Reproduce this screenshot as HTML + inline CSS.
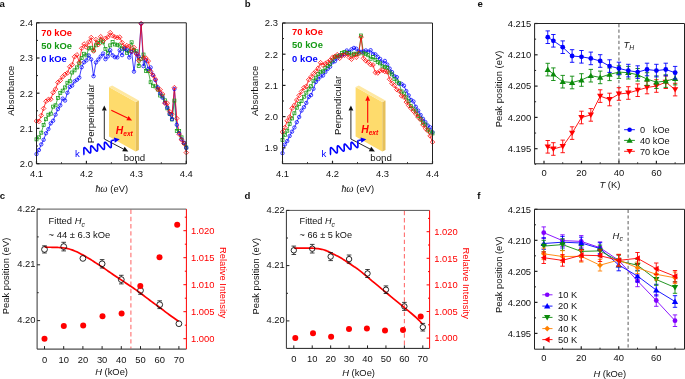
<!DOCTYPE html>
<html><head><meta charset="utf-8"><style>html,body{margin:0;padding:0;background:#fff;}svg{display:block;will-change:transform;}</style></head>
<body><svg width="685" height="379" viewBox="0 0 685 379">
<rect width="685" height="379" fill="#fff"/>
<polyline points="36.5,139.35 38.88,137.33 41.26,132.7 43.63,124.97 46.01,119.2 48.39,114.75 50.77,113.67 53.14,106.64 55.52,105.32 57.9,98.06 60.28,92.89 62.66,90.68 65.03,87.44 67.41,82.79 69.79,81.2 72.17,72.51 74.54,70.34 76.92,67.42 79.3,63.49 81.68,57.89 84.06,53.77 86.43,55.4 88.81,48.37 91.19,47.76 93.57,50.38 95.94,45.34 98.32,42.87 100.7,40.47 103.08,42.35 105.46,48.94 107.83,52.81 110.21,45.39 112.59,42.05 114.97,44.46 117.34,44.79 119.72,45.58 122.1,48.67 124.48,48.63 126.86,52.79 129.23,51.26 131.61,42.31 133.99,50.31 136.37,51.31 138.74,66.08 141.12,58.94 143.5,54.56 145.88,71.04 148.26,71.19 150.63,82.24 153.01,85.77 155.39,86.45 157.77,89.52 160.14,95.53 162.52,96.3 164.9,100.32 167.28,108.37 169.66,114.09 172.03,119.44 174.41,100.6 176.79,131.04 179.17,131.12 181.54,137.34 183.92,143.19 186.3,147.47" fill="none" stroke="#159a15" stroke-width="0.75" stroke-linejoin="round" />
<polyline points="36.5,154.08 38.88,150.07 41.26,144.41 43.63,139.83 46.01,133.29 48.39,129.11 50.77,123.38 53.14,120.72 55.52,114.67 57.9,109.15 60.28,105.39 62.66,98.62 65.03,100.54 67.41,92.78 69.79,87 72.17,85.56 74.54,81.37 76.92,79.8 79.3,77.64 81.68,67.2 84.06,62.29 86.43,60.36 88.81,55.51 91.19,59.34 93.57,76.2 95.94,62.49 98.32,59.51 100.7,56.43 103.08,53.51 105.46,59.19 107.83,56.42 110.21,50.22 112.59,55.28 114.97,57.23 117.34,57.39 119.72,50.3 122.1,55.14 124.48,48.66 126.86,49.56 129.23,57.46 131.61,51.97 133.99,71.6 136.37,53.47 138.74,56.47 141.12,23.7 143.5,66.13 145.88,60.35 148.26,68.97 150.63,67.46 153.01,74.86 155.39,80.09 157.77,87.35 160.14,93.44 162.52,97.66 164.9,102.73 167.28,107.48 169.66,113.91 172.03,119.16 174.41,89 176.79,124.8 179.17,133.29 181.54,139.21 183.92,142.69 186.3,147.91" fill="none" stroke="#0000ff" stroke-width="0.75" stroke-linejoin="round" />
<polyline points="36.5,121.04 38.88,121.41 41.26,115.47 43.63,108.46 46.01,101.27 48.39,99.46 50.77,99.23 53.14,92.59 55.52,89.12 57.9,82.39 60.28,80.38 62.66,76.78 65.03,74.34 67.41,72.99 69.79,66.79 72.17,64.68 74.54,56.79 76.92,54.85 79.3,62.44 81.68,48.33 84.06,44.04 86.43,46.99 88.81,42.01 91.19,37.5 93.57,51.01 95.94,39.56 98.32,44.64 100.7,36.7 103.08,40.83 105.46,38.31 107.83,37.07 110.21,32.62 112.59,35.75 114.97,36.91 117.34,37.71 119.72,37.23 122.1,42.62 124.48,47.03 126.86,45.63 129.23,46.37 131.61,51.17 133.99,47.5 136.37,53.88 138.74,60.46 141.12,23.7 143.5,57.79 145.88,58.06 148.26,61.06 150.63,71.36 153.01,75.38 155.39,79.17 157.77,89.31 160.14,89.72 162.52,94.06 164.9,103.22 167.28,103.26 169.66,111.55 172.03,114.26 174.41,87.6 176.79,118.39 179.17,134.26 181.54,139.76 183.92,143.47 186.3,152.57" fill="none" stroke="#ff0000" stroke-width="0.75" stroke-linejoin="round" />
<rect x="35" y="137.85" width="3.0" height="3.0" fill="none" stroke="#159a15" stroke-width="0.75"/>
<rect x="37.38" y="135.83" width="3.0" height="3.0" fill="none" stroke="#159a15" stroke-width="0.75"/>
<rect x="39.76" y="131.2" width="3.0" height="3.0" fill="none" stroke="#159a15" stroke-width="0.75"/>
<rect x="42.13" y="123.47" width="3.0" height="3.0" fill="none" stroke="#159a15" stroke-width="0.75"/>
<rect x="44.51" y="117.7" width="3.0" height="3.0" fill="none" stroke="#159a15" stroke-width="0.75"/>
<rect x="46.89" y="113.25" width="3.0" height="3.0" fill="none" stroke="#159a15" stroke-width="0.75"/>
<rect x="49.27" y="112.17" width="3.0" height="3.0" fill="none" stroke="#159a15" stroke-width="0.75"/>
<rect x="51.64" y="105.14" width="3.0" height="3.0" fill="none" stroke="#159a15" stroke-width="0.75"/>
<rect x="54.02" y="103.82" width="3.0" height="3.0" fill="none" stroke="#159a15" stroke-width="0.75"/>
<rect x="56.4" y="96.56" width="3.0" height="3.0" fill="none" stroke="#159a15" stroke-width="0.75"/>
<rect x="58.78" y="91.39" width="3.0" height="3.0" fill="none" stroke="#159a15" stroke-width="0.75"/>
<rect x="61.16" y="89.18" width="3.0" height="3.0" fill="none" stroke="#159a15" stroke-width="0.75"/>
<rect x="63.53" y="85.94" width="3.0" height="3.0" fill="none" stroke="#159a15" stroke-width="0.75"/>
<rect x="65.91" y="81.29" width="3.0" height="3.0" fill="none" stroke="#159a15" stroke-width="0.75"/>
<rect x="68.29" y="79.7" width="3.0" height="3.0" fill="none" stroke="#159a15" stroke-width="0.75"/>
<rect x="70.67" y="71.01" width="3.0" height="3.0" fill="none" stroke="#159a15" stroke-width="0.75"/>
<rect x="73.04" y="68.84" width="3.0" height="3.0" fill="none" stroke="#159a15" stroke-width="0.75"/>
<rect x="75.42" y="65.92" width="3.0" height="3.0" fill="none" stroke="#159a15" stroke-width="0.75"/>
<rect x="77.8" y="61.99" width="3.0" height="3.0" fill="none" stroke="#159a15" stroke-width="0.75"/>
<rect x="80.18" y="56.39" width="3.0" height="3.0" fill="none" stroke="#159a15" stroke-width="0.75"/>
<rect x="82.56" y="52.27" width="3.0" height="3.0" fill="none" stroke="#159a15" stroke-width="0.75"/>
<rect x="84.93" y="53.9" width="3.0" height="3.0" fill="none" stroke="#159a15" stroke-width="0.75"/>
<rect x="87.31" y="46.87" width="3.0" height="3.0" fill="none" stroke="#159a15" stroke-width="0.75"/>
<rect x="89.69" y="46.26" width="3.0" height="3.0" fill="none" stroke="#159a15" stroke-width="0.75"/>
<rect x="92.07" y="48.88" width="3.0" height="3.0" fill="none" stroke="#159a15" stroke-width="0.75"/>
<rect x="94.44" y="43.84" width="3.0" height="3.0" fill="none" stroke="#159a15" stroke-width="0.75"/>
<rect x="96.82" y="41.37" width="3.0" height="3.0" fill="none" stroke="#159a15" stroke-width="0.75"/>
<rect x="99.2" y="38.97" width="3.0" height="3.0" fill="none" stroke="#159a15" stroke-width="0.75"/>
<rect x="101.58" y="40.85" width="3.0" height="3.0" fill="none" stroke="#159a15" stroke-width="0.75"/>
<rect x="103.96" y="47.44" width="3.0" height="3.0" fill="none" stroke="#159a15" stroke-width="0.75"/>
<rect x="106.33" y="51.31" width="3.0" height="3.0" fill="none" stroke="#159a15" stroke-width="0.75"/>
<rect x="108.71" y="43.89" width="3.0" height="3.0" fill="none" stroke="#159a15" stroke-width="0.75"/>
<rect x="111.09" y="40.55" width="3.0" height="3.0" fill="none" stroke="#159a15" stroke-width="0.75"/>
<rect x="113.47" y="42.96" width="3.0" height="3.0" fill="none" stroke="#159a15" stroke-width="0.75"/>
<rect x="115.84" y="43.29" width="3.0" height="3.0" fill="none" stroke="#159a15" stroke-width="0.75"/>
<rect x="118.22" y="44.08" width="3.0" height="3.0" fill="none" stroke="#159a15" stroke-width="0.75"/>
<rect x="120.6" y="47.17" width="3.0" height="3.0" fill="none" stroke="#159a15" stroke-width="0.75"/>
<rect x="122.98" y="47.13" width="3.0" height="3.0" fill="none" stroke="#159a15" stroke-width="0.75"/>
<rect x="125.36" y="51.29" width="3.0" height="3.0" fill="none" stroke="#159a15" stroke-width="0.75"/>
<rect x="127.73" y="49.76" width="3.0" height="3.0" fill="none" stroke="#159a15" stroke-width="0.75"/>
<rect x="130.11" y="40.81" width="3.0" height="3.0" fill="none" stroke="#159a15" stroke-width="0.75"/>
<rect x="132.49" y="48.81" width="3.0" height="3.0" fill="none" stroke="#159a15" stroke-width="0.75"/>
<rect x="134.87" y="49.81" width="3.0" height="3.0" fill="none" stroke="#159a15" stroke-width="0.75"/>
<rect x="137.24" y="64.58" width="3.0" height="3.0" fill="none" stroke="#159a15" stroke-width="0.75"/>
<rect x="139.62" y="57.44" width="3.0" height="3.0" fill="none" stroke="#159a15" stroke-width="0.75"/>
<rect x="142" y="53.06" width="3.0" height="3.0" fill="none" stroke="#159a15" stroke-width="0.75"/>
<rect x="144.38" y="69.54" width="3.0" height="3.0" fill="none" stroke="#159a15" stroke-width="0.75"/>
<rect x="146.76" y="69.69" width="3.0" height="3.0" fill="none" stroke="#159a15" stroke-width="0.75"/>
<rect x="149.13" y="80.74" width="3.0" height="3.0" fill="none" stroke="#159a15" stroke-width="0.75"/>
<rect x="151.51" y="84.27" width="3.0" height="3.0" fill="none" stroke="#159a15" stroke-width="0.75"/>
<rect x="153.89" y="84.95" width="3.0" height="3.0" fill="none" stroke="#159a15" stroke-width="0.75"/>
<rect x="156.27" y="88.02" width="3.0" height="3.0" fill="none" stroke="#159a15" stroke-width="0.75"/>
<rect x="158.64" y="94.03" width="3.0" height="3.0" fill="none" stroke="#159a15" stroke-width="0.75"/>
<rect x="161.02" y="94.8" width="3.0" height="3.0" fill="none" stroke="#159a15" stroke-width="0.75"/>
<rect x="163.4" y="98.82" width="3.0" height="3.0" fill="none" stroke="#159a15" stroke-width="0.75"/>
<rect x="165.78" y="106.87" width="3.0" height="3.0" fill="none" stroke="#159a15" stroke-width="0.75"/>
<rect x="168.16" y="112.59" width="3.0" height="3.0" fill="none" stroke="#159a15" stroke-width="0.75"/>
<rect x="170.53" y="117.94" width="3.0" height="3.0" fill="none" stroke="#159a15" stroke-width="0.75"/>
<rect x="172.91" y="99.1" width="3.0" height="3.0" fill="none" stroke="#159a15" stroke-width="0.75"/>
<rect x="175.29" y="129.54" width="3.0" height="3.0" fill="none" stroke="#159a15" stroke-width="0.75"/>
<rect x="177.67" y="129.62" width="3.0" height="3.0" fill="none" stroke="#159a15" stroke-width="0.75"/>
<rect x="180.04" y="135.84" width="3.0" height="3.0" fill="none" stroke="#159a15" stroke-width="0.75"/>
<rect x="182.42" y="141.69" width="3.0" height="3.0" fill="none" stroke="#159a15" stroke-width="0.75"/>
<rect x="184.8" y="145.97" width="3.0" height="3.0" fill="none" stroke="#159a15" stroke-width="0.75"/>
<circle cx="36.5" cy="154.08" r="1.7" fill="none" stroke="#0000ff" stroke-width="0.75"/>
<circle cx="38.88" cy="150.07" r="1.7" fill="none" stroke="#0000ff" stroke-width="0.75"/>
<circle cx="41.26" cy="144.41" r="1.7" fill="none" stroke="#0000ff" stroke-width="0.75"/>
<circle cx="43.63" cy="139.83" r="1.7" fill="none" stroke="#0000ff" stroke-width="0.75"/>
<circle cx="46.01" cy="133.29" r="1.7" fill="none" stroke="#0000ff" stroke-width="0.75"/>
<circle cx="48.39" cy="129.11" r="1.7" fill="none" stroke="#0000ff" stroke-width="0.75"/>
<circle cx="50.77" cy="123.38" r="1.7" fill="none" stroke="#0000ff" stroke-width="0.75"/>
<circle cx="53.14" cy="120.72" r="1.7" fill="none" stroke="#0000ff" stroke-width="0.75"/>
<circle cx="55.52" cy="114.67" r="1.7" fill="none" stroke="#0000ff" stroke-width="0.75"/>
<circle cx="57.9" cy="109.15" r="1.7" fill="none" stroke="#0000ff" stroke-width="0.75"/>
<circle cx="60.28" cy="105.39" r="1.7" fill="none" stroke="#0000ff" stroke-width="0.75"/>
<circle cx="62.66" cy="98.62" r="1.7" fill="none" stroke="#0000ff" stroke-width="0.75"/>
<circle cx="65.03" cy="100.54" r="1.7" fill="none" stroke="#0000ff" stroke-width="0.75"/>
<circle cx="67.41" cy="92.78" r="1.7" fill="none" stroke="#0000ff" stroke-width="0.75"/>
<circle cx="69.79" cy="87" r="1.7" fill="none" stroke="#0000ff" stroke-width="0.75"/>
<circle cx="72.17" cy="85.56" r="1.7" fill="none" stroke="#0000ff" stroke-width="0.75"/>
<circle cx="74.54" cy="81.37" r="1.7" fill="none" stroke="#0000ff" stroke-width="0.75"/>
<circle cx="76.92" cy="79.8" r="1.7" fill="none" stroke="#0000ff" stroke-width="0.75"/>
<circle cx="79.3" cy="77.64" r="1.7" fill="none" stroke="#0000ff" stroke-width="0.75"/>
<circle cx="81.68" cy="67.2" r="1.7" fill="none" stroke="#0000ff" stroke-width="0.75"/>
<circle cx="84.06" cy="62.29" r="1.7" fill="none" stroke="#0000ff" stroke-width="0.75"/>
<circle cx="86.43" cy="60.36" r="1.7" fill="none" stroke="#0000ff" stroke-width="0.75"/>
<circle cx="88.81" cy="55.51" r="1.7" fill="none" stroke="#0000ff" stroke-width="0.75"/>
<circle cx="91.19" cy="59.34" r="1.7" fill="none" stroke="#0000ff" stroke-width="0.75"/>
<circle cx="93.57" cy="76.2" r="1.7" fill="none" stroke="#0000ff" stroke-width="0.75"/>
<circle cx="95.94" cy="62.49" r="1.7" fill="none" stroke="#0000ff" stroke-width="0.75"/>
<circle cx="98.32" cy="59.51" r="1.7" fill="none" stroke="#0000ff" stroke-width="0.75"/>
<circle cx="100.7" cy="56.43" r="1.7" fill="none" stroke="#0000ff" stroke-width="0.75"/>
<circle cx="103.08" cy="53.51" r="1.7" fill="none" stroke="#0000ff" stroke-width="0.75"/>
<circle cx="105.46" cy="59.19" r="1.7" fill="none" stroke="#0000ff" stroke-width="0.75"/>
<circle cx="107.83" cy="56.42" r="1.7" fill="none" stroke="#0000ff" stroke-width="0.75"/>
<circle cx="110.21" cy="50.22" r="1.7" fill="none" stroke="#0000ff" stroke-width="0.75"/>
<circle cx="112.59" cy="55.28" r="1.7" fill="none" stroke="#0000ff" stroke-width="0.75"/>
<circle cx="114.97" cy="57.23" r="1.7" fill="none" stroke="#0000ff" stroke-width="0.75"/>
<circle cx="117.34" cy="57.39" r="1.7" fill="none" stroke="#0000ff" stroke-width="0.75"/>
<circle cx="119.72" cy="50.3" r="1.7" fill="none" stroke="#0000ff" stroke-width="0.75"/>
<circle cx="122.1" cy="55.14" r="1.7" fill="none" stroke="#0000ff" stroke-width="0.75"/>
<circle cx="124.48" cy="48.66" r="1.7" fill="none" stroke="#0000ff" stroke-width="0.75"/>
<circle cx="126.86" cy="49.56" r="1.7" fill="none" stroke="#0000ff" stroke-width="0.75"/>
<circle cx="129.23" cy="57.46" r="1.7" fill="none" stroke="#0000ff" stroke-width="0.75"/>
<circle cx="131.61" cy="51.97" r="1.7" fill="none" stroke="#0000ff" stroke-width="0.75"/>
<circle cx="133.99" cy="71.6" r="1.7" fill="none" stroke="#0000ff" stroke-width="0.75"/>
<circle cx="136.37" cy="53.47" r="1.7" fill="none" stroke="#0000ff" stroke-width="0.75"/>
<circle cx="138.74" cy="56.47" r="1.7" fill="none" stroke="#0000ff" stroke-width="0.75"/>
<circle cx="141.12" cy="23.7" r="1.7" fill="none" stroke="#0000ff" stroke-width="0.75"/>
<circle cx="143.5" cy="66.13" r="1.7" fill="none" stroke="#0000ff" stroke-width="0.75"/>
<circle cx="145.88" cy="60.35" r="1.7" fill="none" stroke="#0000ff" stroke-width="0.75"/>
<circle cx="148.26" cy="68.97" r="1.7" fill="none" stroke="#0000ff" stroke-width="0.75"/>
<circle cx="150.63" cy="67.46" r="1.7" fill="none" stroke="#0000ff" stroke-width="0.75"/>
<circle cx="153.01" cy="74.86" r="1.7" fill="none" stroke="#0000ff" stroke-width="0.75"/>
<circle cx="155.39" cy="80.09" r="1.7" fill="none" stroke="#0000ff" stroke-width="0.75"/>
<circle cx="157.77" cy="87.35" r="1.7" fill="none" stroke="#0000ff" stroke-width="0.75"/>
<circle cx="160.14" cy="93.44" r="1.7" fill="none" stroke="#0000ff" stroke-width="0.75"/>
<circle cx="162.52" cy="97.66" r="1.7" fill="none" stroke="#0000ff" stroke-width="0.75"/>
<circle cx="164.9" cy="102.73" r="1.7" fill="none" stroke="#0000ff" stroke-width="0.75"/>
<circle cx="167.28" cy="107.48" r="1.7" fill="none" stroke="#0000ff" stroke-width="0.75"/>
<circle cx="169.66" cy="113.91" r="1.7" fill="none" stroke="#0000ff" stroke-width="0.75"/>
<circle cx="172.03" cy="119.16" r="1.7" fill="none" stroke="#0000ff" stroke-width="0.75"/>
<circle cx="174.41" cy="89" r="1.7" fill="none" stroke="#0000ff" stroke-width="0.75"/>
<circle cx="176.79" cy="124.8" r="1.7" fill="none" stroke="#0000ff" stroke-width="0.75"/>
<circle cx="179.17" cy="133.29" r="1.7" fill="none" stroke="#0000ff" stroke-width="0.75"/>
<circle cx="181.54" cy="139.21" r="1.7" fill="none" stroke="#0000ff" stroke-width="0.75"/>
<circle cx="183.92" cy="142.69" r="1.7" fill="none" stroke="#0000ff" stroke-width="0.75"/>
<circle cx="186.3" cy="147.91" r="1.7" fill="none" stroke="#0000ff" stroke-width="0.75"/>
<path d="M36.5 118.74L38.8 121.04L36.5 123.34L34.2 121.04Z" fill="none" stroke="#ff0000" stroke-width="0.75"/>
<path d="M38.88 119.11L41.18 121.41L38.88 123.71L36.58 121.41Z" fill="none" stroke="#ff0000" stroke-width="0.75"/>
<path d="M41.26 113.17L43.56 115.47L41.26 117.77L38.96 115.47Z" fill="none" stroke="#ff0000" stroke-width="0.75"/>
<path d="M43.63 106.16L45.93 108.46L43.63 110.76L41.33 108.46Z" fill="none" stroke="#ff0000" stroke-width="0.75"/>
<path d="M46.01 98.97L48.31 101.27L46.01 103.57L43.71 101.27Z" fill="none" stroke="#ff0000" stroke-width="0.75"/>
<path d="M48.39 97.16L50.69 99.46L48.39 101.76L46.09 99.46Z" fill="none" stroke="#ff0000" stroke-width="0.75"/>
<path d="M50.77 96.93L53.07 99.23L50.77 101.53L48.47 99.23Z" fill="none" stroke="#ff0000" stroke-width="0.75"/>
<path d="M53.14 90.29L55.44 92.59L53.14 94.89L50.84 92.59Z" fill="none" stroke="#ff0000" stroke-width="0.75"/>
<path d="M55.52 86.82L57.82 89.12L55.52 91.42L53.22 89.12Z" fill="none" stroke="#ff0000" stroke-width="0.75"/>
<path d="M57.9 80.09L60.2 82.39L57.9 84.69L55.6 82.39Z" fill="none" stroke="#ff0000" stroke-width="0.75"/>
<path d="M60.28 78.08L62.58 80.38L60.28 82.68L57.98 80.38Z" fill="none" stroke="#ff0000" stroke-width="0.75"/>
<path d="M62.66 74.48L64.96 76.78L62.66 79.08L60.36 76.78Z" fill="none" stroke="#ff0000" stroke-width="0.75"/>
<path d="M65.03 72.04L67.33 74.34L65.03 76.64L62.73 74.34Z" fill="none" stroke="#ff0000" stroke-width="0.75"/>
<path d="M67.41 70.69L69.71 72.99L67.41 75.29L65.11 72.99Z" fill="none" stroke="#ff0000" stroke-width="0.75"/>
<path d="M69.79 64.49L72.09 66.79L69.79 69.09L67.49 66.79Z" fill="none" stroke="#ff0000" stroke-width="0.75"/>
<path d="M72.17 62.38L74.47 64.68L72.17 66.98L69.87 64.68Z" fill="none" stroke="#ff0000" stroke-width="0.75"/>
<path d="M74.54 54.49L76.84 56.79L74.54 59.09L72.24 56.79Z" fill="none" stroke="#ff0000" stroke-width="0.75"/>
<path d="M76.92 52.55L79.22 54.85L76.92 57.15L74.62 54.85Z" fill="none" stroke="#ff0000" stroke-width="0.75"/>
<path d="M79.3 60.14L81.6 62.44L79.3 64.74L77 62.44Z" fill="none" stroke="#ff0000" stroke-width="0.75"/>
<path d="M81.68 46.03L83.98 48.33L81.68 50.63L79.38 48.33Z" fill="none" stroke="#ff0000" stroke-width="0.75"/>
<path d="M84.06 41.74L86.36 44.04L84.06 46.34L81.76 44.04Z" fill="none" stroke="#ff0000" stroke-width="0.75"/>
<path d="M86.43 44.69L88.73 46.99L86.43 49.29L84.13 46.99Z" fill="none" stroke="#ff0000" stroke-width="0.75"/>
<path d="M88.81 39.71L91.11 42.01L88.81 44.31L86.51 42.01Z" fill="none" stroke="#ff0000" stroke-width="0.75"/>
<path d="M91.19 35.2L93.49 37.5L91.19 39.8L88.89 37.5Z" fill="none" stroke="#ff0000" stroke-width="0.75"/>
<path d="M93.57 48.71L95.87 51.01L93.57 53.31L91.27 51.01Z" fill="none" stroke="#ff0000" stroke-width="0.75"/>
<path d="M95.94 37.26L98.24 39.56L95.94 41.86L93.64 39.56Z" fill="none" stroke="#ff0000" stroke-width="0.75"/>
<path d="M98.32 42.34L100.62 44.64L98.32 46.94L96.02 44.64Z" fill="none" stroke="#ff0000" stroke-width="0.75"/>
<path d="M100.7 34.4L103 36.7L100.7 39L98.4 36.7Z" fill="none" stroke="#ff0000" stroke-width="0.75"/>
<path d="M103.08 38.53L105.38 40.83L103.08 43.13L100.78 40.83Z" fill="none" stroke="#ff0000" stroke-width="0.75"/>
<path d="M105.46 36.01L107.76 38.31L105.46 40.61L103.16 38.31Z" fill="none" stroke="#ff0000" stroke-width="0.75"/>
<path d="M107.83 34.77L110.13 37.07L107.83 39.37L105.53 37.07Z" fill="none" stroke="#ff0000" stroke-width="0.75"/>
<path d="M110.21 30.32L112.51 32.62L110.21 34.92L107.91 32.62Z" fill="none" stroke="#ff0000" stroke-width="0.75"/>
<path d="M112.59 33.45L114.89 35.75L112.59 38.05L110.29 35.75Z" fill="none" stroke="#ff0000" stroke-width="0.75"/>
<path d="M114.97 34.61L117.27 36.91L114.97 39.21L112.67 36.91Z" fill="none" stroke="#ff0000" stroke-width="0.75"/>
<path d="M117.34 35.41L119.64 37.71L117.34 40.01L115.04 37.71Z" fill="none" stroke="#ff0000" stroke-width="0.75"/>
<path d="M119.72 34.93L122.02 37.23L119.72 39.53L117.42 37.23Z" fill="none" stroke="#ff0000" stroke-width="0.75"/>
<path d="M122.1 40.32L124.4 42.62L122.1 44.92L119.8 42.62Z" fill="none" stroke="#ff0000" stroke-width="0.75"/>
<path d="M124.48 44.73L126.78 47.03L124.48 49.33L122.18 47.03Z" fill="none" stroke="#ff0000" stroke-width="0.75"/>
<path d="M126.86 43.33L129.16 45.63L126.86 47.93L124.56 45.63Z" fill="none" stroke="#ff0000" stroke-width="0.75"/>
<path d="M129.23 44.07L131.53 46.37L129.23 48.67L126.93 46.37Z" fill="none" stroke="#ff0000" stroke-width="0.75"/>
<path d="M131.61 48.87L133.91 51.17L131.61 53.47L129.31 51.17Z" fill="none" stroke="#ff0000" stroke-width="0.75"/>
<path d="M133.99 45.2L136.29 47.5L133.99 49.8L131.69 47.5Z" fill="none" stroke="#ff0000" stroke-width="0.75"/>
<path d="M136.37 51.58L138.67 53.88L136.37 56.18L134.07 53.88Z" fill="none" stroke="#ff0000" stroke-width="0.75"/>
<path d="M138.74 58.16L141.04 60.46L138.74 62.76L136.44 60.46Z" fill="none" stroke="#ff0000" stroke-width="0.75"/>
<path d="M141.12 21.4L143.42 23.7L141.12 26L138.82 23.7Z" fill="none" stroke="#ff0000" stroke-width="0.75"/>
<path d="M143.5 55.49L145.8 57.79L143.5 60.09L141.2 57.79Z" fill="none" stroke="#ff0000" stroke-width="0.75"/>
<path d="M145.88 55.76L148.18 58.06L145.88 60.36L143.58 58.06Z" fill="none" stroke="#ff0000" stroke-width="0.75"/>
<path d="M148.26 58.76L150.56 61.06L148.26 63.36L145.96 61.06Z" fill="none" stroke="#ff0000" stroke-width="0.75"/>
<path d="M150.63 69.06L152.93 71.36L150.63 73.66L148.33 71.36Z" fill="none" stroke="#ff0000" stroke-width="0.75"/>
<path d="M153.01 73.08L155.31 75.38L153.01 77.68L150.71 75.38Z" fill="none" stroke="#ff0000" stroke-width="0.75"/>
<path d="M155.39 76.87L157.69 79.17L155.39 81.47L153.09 79.17Z" fill="none" stroke="#ff0000" stroke-width="0.75"/>
<path d="M157.77 87.01L160.07 89.31L157.77 91.61L155.47 89.31Z" fill="none" stroke="#ff0000" stroke-width="0.75"/>
<path d="M160.14 87.42L162.44 89.72L160.14 92.02L157.84 89.72Z" fill="none" stroke="#ff0000" stroke-width="0.75"/>
<path d="M162.52 91.76L164.82 94.06L162.52 96.36L160.22 94.06Z" fill="none" stroke="#ff0000" stroke-width="0.75"/>
<path d="M164.9 100.92L167.2 103.22L164.9 105.52L162.6 103.22Z" fill="none" stroke="#ff0000" stroke-width="0.75"/>
<path d="M167.28 100.96L169.58 103.26L167.28 105.56L164.98 103.26Z" fill="none" stroke="#ff0000" stroke-width="0.75"/>
<path d="M169.66 109.25L171.96 111.55L169.66 113.85L167.36 111.55Z" fill="none" stroke="#ff0000" stroke-width="0.75"/>
<path d="M172.03 111.96L174.33 114.26L172.03 116.56L169.73 114.26Z" fill="none" stroke="#ff0000" stroke-width="0.75"/>
<path d="M174.41 85.3L176.71 87.6L174.41 89.9L172.11 87.6Z" fill="none" stroke="#ff0000" stroke-width="0.75"/>
<path d="M176.79 116.09L179.09 118.39L176.79 120.69L174.49 118.39Z" fill="none" stroke="#ff0000" stroke-width="0.75"/>
<path d="M179.17 131.96L181.47 134.26L179.17 136.56L176.87 134.26Z" fill="none" stroke="#ff0000" stroke-width="0.75"/>
<path d="M181.54 137.46L183.84 139.76L181.54 142.06L179.24 139.76Z" fill="none" stroke="#ff0000" stroke-width="0.75"/>
<path d="M183.92 141.17L186.22 143.47L183.92 145.77L181.62 143.47Z" fill="none" stroke="#ff0000" stroke-width="0.75"/>
<path d="M186.3 150.27L188.6 152.57L186.3 154.87L184 152.57Z" fill="none" stroke="#ff0000" stroke-width="0.75"/>
<text x="41.3" y="35.8" font-size="9.4" text-anchor="start" font-weight="bold" font-style="normal" fill="#ff0000" font-family="Liberation Sans">70 kOe</text>
<text x="41.3" y="49" font-size="9.4" text-anchor="start" font-weight="bold" font-style="normal" fill="#159a15" font-family="Liberation Sans">50 kOe</text>
<text x="41.3" y="62.2" font-size="9.4" text-anchor="start" font-weight="bold" font-style="normal" fill="#0000ff" font-family="Liberation Sans">0 kOe</text>
<path d="M109 87.1L135.7 102.1L135.7 151.6L109 136.6Z" fill="#fedb6c" stroke="none" stroke-width="1" />
<path d="M135.7 102.1L138.9 100.4L138.9 149.9L135.7 151.6Z" fill="#e6c05a" stroke="none" stroke-width="1" />
<path d="M109 87.1L112.2 85.4L138.9 100.4L135.7 102.1Z" fill="#fee8a2" stroke="none" stroke-width="1" />
<line x1="104.3" y1="139" x2="104.3" y2="110.5" stroke="#111" stroke-width="0.9" />
<path d="M104.3 105.4L106.7 110.6L101.9 110.6Z" fill="#111" stroke="none" stroke-width="1" />
<path d="M128.3 151.6L122.22 151.35L124.64 146.74Z" fill="#111" stroke="none" stroke-width="1" />
<line x1="104.3" y1="139" x2="123.43" y2="149.04" stroke="#111" stroke-width="0.9" />
<polyline points="83.4,154.75 83.52,154.69 83.62,154.6 83.71,154.46 83.78,154.28 83.83,154.06 83.87,153.8 83.9,153.51 83.91,153.19 83.92,152.85 83.91,152.49 83.9,152.11 83.89,151.71 83.87,151.31 83.85,150.91 83.83,150.51 83.82,150.13 83.81,149.75 83.81,149.39 83.82,149.06 83.83,148.75 83.87,148.47 83.91,148.23 83.97,148.02 84.04,147.85 84.13,147.73 84.24,147.64 84.37,147.6 84.51,147.6 84.67,147.65 84.85,147.74 85.04,147.86 85.25,148.03 85.47,148.23 85.7,148.46 85.95,148.72 86.21,149 86.47,149.31 86.74,149.63 87.01,149.96 87.29,150.29 87.56,150.62 87.84,150.95 88.1,151.27 88.37,151.57 88.62,151.86 88.87,152.12 89.1,152.35 89.33,152.55 89.53,152.72 89.73,152.84 89.9,152.93 90.06,152.98 90.2,152.98 90.33,152.94 90.44,152.85 90.53,152.73 90.6,152.56 90.66,152.35 90.71,152.11 90.74,151.83 90.76,151.52 90.76,151.19 90.76,150.83 90.75,150.45 90.74,150.06 90.72,149.67 90.7,149.27 90.69,148.87 90.67,148.47 90.66,148.09 90.66,147.73 90.66,147.38 90.68,147.07 90.7,146.78 90.74,146.52 90.8,146.3 90.87,146.12 90.95,145.98 91.05,145.88 91.17,145.83 91.31,145.82 91.46,145.85 91.64,145.92 91.82,146.04 92.03,146.19 92.24,146.38 92.47,146.6 92.72,146.85 92.97,147.13 93.23,147.42 93.5,147.74 93.77,148.06 94.04,148.4 94.32,148.73 94.59,149.06 94.86,149.39 95.13,149.69 95.39,149.99 95.64,150.25 95.88,150.5 96.1,150.71 96.31,150.88 96.51,151.02 96.69,151.12 96.86,151.18 97.01,151.2 97.14,151.18 97.25,151.11 97.35,150.99 97.43,150.84 97.49,150.65 97.54,150.41 97.58,150.15 97.6,149.85 97.61,149.52 97.61,149.17 97.61,148.8 97.59,148.41 97.58,148.02 97.56,147.62 97.54,147.22 97.52,146.82 97.51,146.44 97.51,146.07 97.51,145.72 97.52,145.39 97.54,145.09 97.58,144.82 97.62,144.59 97.69,144.4 97.77,144.24 97.87,144.13 97.98,144.06 98.11,144.04 98.26,144.05 98.43,144.11 98.61,144.21 98.81,144.35 99.02,144.53 99.24,144.74 99.48,144.98 99.73,145.25 99.99,145.54 100.26,145.85 100.53,146.17 100.8,146.51 101.08,146.84 101.35,147.17 101.62,147.5 101.89,147.81 102.15,148.11 102.4,148.39 102.65,148.64 102.88,148.86 103.09,149.05 103.3,149.2 103.48,149.32 103.65,149.39 103.81,149.42 103.95,149.41 104.07,149.35 104.17,149.25 104.25,149.11 104.32,148.93 104.38,148.71 104.42,148.46 104.44,148.17 104.46,147.85 104.46,147.51 104.46,147.15 104.45,146.76 104.43,146.37 104.41,145.97 104.4,145.57 104.38,145.17 104.36,144.78 104.36,144.41 104.35,144.05 104.36,143.71 104.38,143.41 104.41,143.13 104.46,142.88 104.51,142.68 104.59,142.51 104.68,142.38 104.79,142.3 104.91,142.26 105.06,142.26 105.22,142.31 105.39,142.39 105.59,142.52 105.79,142.69 106.02,142.89 106.25,143.12 106.5,143.38 106.75,143.66 107.01,143.97 107.28,144.28 107.56,144.61 107.83,144.95 108.11,145.28 108.38,145.61 108.65,145.93 108.91,146.23 109.17,146.52 109.41,146.78 109.65,147.01 109.87,147.21 110.08,147.37 110.27,147.5 110.45,147.59 110.61,147.63 110.75,147.64 110.88,147.6 110.98,147.51 111.08,147.39 111.15,147.22 111.21,147.01 111.25,146.77 111.28,146.49 111.3,146.18 111.31,145.85 111.31,145.49 111.3,145.11 111.29,144.72 111.27,144.32 111.25,143.92 111.23,143.52 111.22,143.13 111.21,142.75 111.2,142.39 111.21,142.04 111.22,141.72 111.25,141.44 111.29,141.18 111.34,140.96 111.41,140.78 111.5,140.64 111.6,140.54 111.72,140.49" fill="none" stroke="#0000ff" stroke-width="1.6" stroke-linejoin="round" />
<path d="M119.7 139.2L114.8 142.73L113.94 137.39Z" fill="#0000ff" stroke="none" stroke-width="1" />
<line x1="111.72" y1="140.49" x2="114.37" y2="140.06" stroke="#0000ff" stroke-width="1.45" />
<text x="74.9" y="156.6" font-size="9.6" text-anchor="start" font-weight="normal" font-style="normal" fill="#0000ff" font-family="Liberation Sans">k</text>
<text x="123.7" y="160.8" font-size="9.7" text-anchor="start" font-weight="normal" font-style="normal" fill="#111" font-family="Liberation Sans">bond</text>
<text x="93.8" y="143.2" font-size="9.6" text-anchor="start" font-weight="normal" font-style="normal" fill="#111" font-family="Liberation Sans" transform="rotate(-90 93.8 143.2)">Perpendicular</text>
<path d="M132.1 120.4L126.37 120.27L128.49 115.96Z" fill="#ff0000" stroke="none" stroke-width="1" />
<line x1="111.3" y1="110.2" x2="127.43" y2="118.11" stroke="#ff0000" stroke-width="1.1" />
<text x="115.8" y="133.7" font-family="Liberation Sans" font-weight="bold" font-style="italic" fill="#ff0000" font-size="10.3">H<tspan font-size="6.6" dy="1.9">ext</tspan></text>
<line x1="36.5" y1="22.8" x2="186.3" y2="22.8" stroke="#222" stroke-width="1" />
<line x1="36.5" y1="163.8" x2="186.3" y2="163.8" stroke="#222" stroke-width="1" />
<line x1="36.5" y1="22.8" x2="36.5" y2="163.8" stroke="#222" stroke-width="1" />
<line x1="186.3" y1="22.8" x2="186.3" y2="163.8" stroke="#222" stroke-width="1" />
<line x1="36.5" y1="163.8" x2="36.5" y2="160.8" stroke="#222" stroke-width="1.2" />
<text x="36.5" y="176.9" font-size="9.4" text-anchor="middle" font-weight="normal" font-style="normal" fill="#111" font-family="Liberation Sans">4.1</text>
<line x1="86.43" y1="163.8" x2="86.43" y2="160.8" stroke="#222" stroke-width="1.2" />
<text x="86.43" y="176.9" font-size="9.4" text-anchor="middle" font-weight="normal" font-style="normal" fill="#111" font-family="Liberation Sans">4.2</text>
<line x1="136.37" y1="163.8" x2="136.37" y2="160.8" stroke="#222" stroke-width="1.2" />
<text x="136.37" y="176.9" font-size="9.4" text-anchor="middle" font-weight="normal" font-style="normal" fill="#111" font-family="Liberation Sans">4.3</text>
<line x1="186.3" y1="163.8" x2="186.3" y2="160.8" stroke="#222" stroke-width="1.2" />
<text x="186.3" y="176.9" font-size="9.4" text-anchor="middle" font-weight="normal" font-style="normal" fill="#111" font-family="Liberation Sans">4.4</text>
<line x1="61.47" y1="163.8" x2="61.47" y2="162.3" stroke="#222" stroke-width="1" />
<line x1="111.4" y1="163.8" x2="111.4" y2="162.3" stroke="#222" stroke-width="1" />
<line x1="161.33" y1="163.8" x2="161.33" y2="162.3" stroke="#222" stroke-width="1" />
<line x1="36.5" y1="163.6" x2="39.5" y2="163.6" stroke="#222" stroke-width="1.2" />
<text x="32.9" y="166.9" font-size="9.4" text-anchor="end" font-weight="normal" font-style="normal" fill="#111" font-family="Liberation Sans">2.0</text>
<line x1="36.5" y1="128.4" x2="39.5" y2="128.4" stroke="#222" stroke-width="1.2" />
<text x="32.9" y="131.7" font-size="9.4" text-anchor="end" font-weight="normal" font-style="normal" fill="#111" font-family="Liberation Sans">2.1</text>
<line x1="36.5" y1="93.2" x2="39.5" y2="93.2" stroke="#222" stroke-width="1.2" />
<text x="32.9" y="96.5" font-size="9.4" text-anchor="end" font-weight="normal" font-style="normal" fill="#111" font-family="Liberation Sans">2.2</text>
<line x1="36.5" y1="58" x2="39.5" y2="58" stroke="#222" stroke-width="1.2" />
<text x="32.9" y="61.3" font-size="9.4" text-anchor="end" font-weight="normal" font-style="normal" fill="#111" font-family="Liberation Sans">2.3</text>
<line x1="36.5" y1="22.8" x2="39.5" y2="22.8" stroke="#222" stroke-width="1.2" />
<text x="32.9" y="26.1" font-size="9.4" text-anchor="end" font-weight="normal" font-style="normal" fill="#111" font-family="Liberation Sans">2.4</text>
<line x1="36.5" y1="146" x2="38" y2="146" stroke="#222" stroke-width="1" />
<line x1="36.5" y1="110.8" x2="38" y2="110.8" stroke="#222" stroke-width="1" />
<line x1="36.5" y1="75.6" x2="38" y2="75.6" stroke="#222" stroke-width="1" />
<line x1="36.5" y1="40.4" x2="38" y2="40.4" stroke="#222" stroke-width="1" />
<text x="13.9" y="90.7" font-size="9.4" text-anchor="middle" font-weight="normal" font-style="normal" fill="#111" font-family="Liberation Sans" transform="rotate(-90 13.9 90.7)">Absorbance</text>
<text x="111.6" y="191.8" text-anchor="middle" font-size="9.4" font-family="Liberation Sans" fill="#111"><tspan font-family="Liberation Serif" font-style="italic" font-size="10.4">ħω</tspan> (eV)</text>
<text x="-0.4" y="6.8" font-size="9.6" text-anchor="start" font-weight="bold" font-style="normal" fill="#111" font-family="Liberation Sans">a</text>
<polyline points="282.5,153.17 284.88,144.51 287.26,141.03 289.64,136.01 292.02,131.64 294.4,127.5 296.79,122.15 299.17,117.03 301.55,110.58 303.93,107.21 306.31,102.96 308.69,97.02 311.07,95.07 313.45,88.85 315.83,82 318.21,79.17 320.6,76.42 322.98,75.52 325.36,72.03 327.74,68.86 330.12,66.71 332.5,62.25 334.88,61.28 337.26,58.27 339.64,55.28 342.02,55.48 344.4,54.05 346.79,50.51 349.17,51.94 351.55,49.28 353.93,47.94 356.31,48.73 358.69,51.58 361.07,51.81 363.45,51.56 365.83,50.46 368.21,51.83 370.6,50.17 372.98,53.91 375.36,54.39 377.74,56.84 380.12,58.93 382.5,62.69 384.88,60.93 387.26,64.56 389.64,68.55 392.02,72.1 394.4,76.12 396.79,77.16 399.17,83.73 401.55,83.9 403.93,85.71 406.31,91.08 408.69,95.35 411.07,99.96 413.45,101.45 415.83,106.75 418.21,110.63 420.6,114.97 422.98,118.83 425.36,122.04 427.74,125.46 430.12,127.3 432.5,132.16" fill="none" stroke="#0000ff" stroke-width="0.75" stroke-linejoin="round" />
<polyline points="282.5,139.96 284.88,134.78 287.26,130.72 289.64,123.91 292.02,118.43 294.4,113.26 296.79,107.7 299.17,104 301.55,101.12 303.93,96.75 306.31,92.66 308.69,89.32 311.07,86.23 313.45,80.73 315.83,77.7 318.21,73.96 320.6,71.82 322.98,71.31 325.36,68.09 327.74,65.92 330.12,64.19 332.5,60.4 334.88,56.84 337.26,56.34 339.64,55.55 342.02,53.12 344.4,51.99 346.79,53.07 349.17,53.14 351.55,54.74 353.93,53.72 356.31,53.76 358.69,53.48 361.07,35.5 363.45,53.35 365.83,53.81 368.21,55.24 370.6,58.76 372.98,57.11 375.36,60.04 377.74,61.91 380.12,63.31 382.5,66.42 384.88,66.88 387.26,68.08 389.64,72.45 392.02,74.4 394.4,78.88 396.79,81.38 399.17,83.14 401.55,91.43 403.93,93.58 406.31,97.36 408.69,101.19 411.07,106.14 413.45,108.61 415.83,111.35 418.21,115.77 420.6,118.76 422.98,122.63 425.36,124.62 427.74,129.67 430.12,131.6 432.5,133.42" fill="none" stroke="#159a15" stroke-width="0.75" stroke-linejoin="round" />
<polyline points="282.5,132.01 284.88,127.52 287.26,120.81 289.64,116.97 292.02,108.24 294.4,105.16 296.79,100.01 299.17,95.41 301.55,91.48 303.93,87.67 306.31,86.31 308.69,79.75 311.07,76.81 313.45,73.6 315.83,71.27 318.21,68.12 320.6,62.7 322.98,65.14 325.36,63.57 327.74,62.14 330.12,60.23 332.5,57.39 334.88,56.49 337.26,54.68 339.64,58.28 342.02,55.29 344.4,55.29 346.79,53.66 349.17,57.34 351.55,59.21 353.93,54.98 356.31,57.25 358.69,53.31 361.07,37.1 363.45,58.32 365.83,60.77 368.21,62.21 370.6,64.67 372.98,64.95 375.36,72.5 377.74,73 380.12,70.81 382.5,70.17 384.88,71.51 387.26,71.89 389.64,79.27 392.02,83.45 394.4,85.58 396.79,89.56 399.17,91.11 401.55,95.92 403.93,97.07 406.31,102.06 408.69,105.56 411.07,108.43 413.45,111.15 415.83,113.93 418.21,117.3 420.6,119.74 422.98,124.92 425.36,128.35 427.74,130.81 430.12,135.91 432.5,142.07" fill="none" stroke="#ff0000" stroke-width="0.75" stroke-linejoin="round" />
<circle cx="282.5" cy="153.17" r="1.7" fill="none" stroke="#0000ff" stroke-width="0.75"/>
<circle cx="284.88" cy="144.51" r="1.7" fill="none" stroke="#0000ff" stroke-width="0.75"/>
<circle cx="287.26" cy="141.03" r="1.7" fill="none" stroke="#0000ff" stroke-width="0.75"/>
<circle cx="289.64" cy="136.01" r="1.7" fill="none" stroke="#0000ff" stroke-width="0.75"/>
<circle cx="292.02" cy="131.64" r="1.7" fill="none" stroke="#0000ff" stroke-width="0.75"/>
<circle cx="294.4" cy="127.5" r="1.7" fill="none" stroke="#0000ff" stroke-width="0.75"/>
<circle cx="296.79" cy="122.15" r="1.7" fill="none" stroke="#0000ff" stroke-width="0.75"/>
<circle cx="299.17" cy="117.03" r="1.7" fill="none" stroke="#0000ff" stroke-width="0.75"/>
<circle cx="301.55" cy="110.58" r="1.7" fill="none" stroke="#0000ff" stroke-width="0.75"/>
<circle cx="303.93" cy="107.21" r="1.7" fill="none" stroke="#0000ff" stroke-width="0.75"/>
<circle cx="306.31" cy="102.96" r="1.7" fill="none" stroke="#0000ff" stroke-width="0.75"/>
<circle cx="308.69" cy="97.02" r="1.7" fill="none" stroke="#0000ff" stroke-width="0.75"/>
<circle cx="311.07" cy="95.07" r="1.7" fill="none" stroke="#0000ff" stroke-width="0.75"/>
<circle cx="313.45" cy="88.85" r="1.7" fill="none" stroke="#0000ff" stroke-width="0.75"/>
<circle cx="315.83" cy="82" r="1.7" fill="none" stroke="#0000ff" stroke-width="0.75"/>
<circle cx="318.21" cy="79.17" r="1.7" fill="none" stroke="#0000ff" stroke-width="0.75"/>
<circle cx="320.6" cy="76.42" r="1.7" fill="none" stroke="#0000ff" stroke-width="0.75"/>
<circle cx="322.98" cy="75.52" r="1.7" fill="none" stroke="#0000ff" stroke-width="0.75"/>
<circle cx="325.36" cy="72.03" r="1.7" fill="none" stroke="#0000ff" stroke-width="0.75"/>
<circle cx="327.74" cy="68.86" r="1.7" fill="none" stroke="#0000ff" stroke-width="0.75"/>
<circle cx="330.12" cy="66.71" r="1.7" fill="none" stroke="#0000ff" stroke-width="0.75"/>
<circle cx="332.5" cy="62.25" r="1.7" fill="none" stroke="#0000ff" stroke-width="0.75"/>
<circle cx="334.88" cy="61.28" r="1.7" fill="none" stroke="#0000ff" stroke-width="0.75"/>
<circle cx="337.26" cy="58.27" r="1.7" fill="none" stroke="#0000ff" stroke-width="0.75"/>
<circle cx="339.64" cy="55.28" r="1.7" fill="none" stroke="#0000ff" stroke-width="0.75"/>
<circle cx="342.02" cy="55.48" r="1.7" fill="none" stroke="#0000ff" stroke-width="0.75"/>
<circle cx="344.4" cy="54.05" r="1.7" fill="none" stroke="#0000ff" stroke-width="0.75"/>
<circle cx="346.79" cy="50.51" r="1.7" fill="none" stroke="#0000ff" stroke-width="0.75"/>
<circle cx="349.17" cy="51.94" r="1.7" fill="none" stroke="#0000ff" stroke-width="0.75"/>
<circle cx="351.55" cy="49.28" r="1.7" fill="none" stroke="#0000ff" stroke-width="0.75"/>
<circle cx="353.93" cy="47.94" r="1.7" fill="none" stroke="#0000ff" stroke-width="0.75"/>
<circle cx="356.31" cy="48.73" r="1.7" fill="none" stroke="#0000ff" stroke-width="0.75"/>
<circle cx="358.69" cy="51.58" r="1.7" fill="none" stroke="#0000ff" stroke-width="0.75"/>
<circle cx="361.07" cy="51.81" r="1.7" fill="none" stroke="#0000ff" stroke-width="0.75"/>
<circle cx="363.45" cy="51.56" r="1.7" fill="none" stroke="#0000ff" stroke-width="0.75"/>
<circle cx="365.83" cy="50.46" r="1.7" fill="none" stroke="#0000ff" stroke-width="0.75"/>
<circle cx="368.21" cy="51.83" r="1.7" fill="none" stroke="#0000ff" stroke-width="0.75"/>
<circle cx="370.6" cy="50.17" r="1.7" fill="none" stroke="#0000ff" stroke-width="0.75"/>
<circle cx="372.98" cy="53.91" r="1.7" fill="none" stroke="#0000ff" stroke-width="0.75"/>
<circle cx="375.36" cy="54.39" r="1.7" fill="none" stroke="#0000ff" stroke-width="0.75"/>
<circle cx="377.74" cy="56.84" r="1.7" fill="none" stroke="#0000ff" stroke-width="0.75"/>
<circle cx="380.12" cy="58.93" r="1.7" fill="none" stroke="#0000ff" stroke-width="0.75"/>
<circle cx="382.5" cy="62.69" r="1.7" fill="none" stroke="#0000ff" stroke-width="0.75"/>
<circle cx="384.88" cy="60.93" r="1.7" fill="none" stroke="#0000ff" stroke-width="0.75"/>
<circle cx="387.26" cy="64.56" r="1.7" fill="none" stroke="#0000ff" stroke-width="0.75"/>
<circle cx="389.64" cy="68.55" r="1.7" fill="none" stroke="#0000ff" stroke-width="0.75"/>
<circle cx="392.02" cy="72.1" r="1.7" fill="none" stroke="#0000ff" stroke-width="0.75"/>
<circle cx="394.4" cy="76.12" r="1.7" fill="none" stroke="#0000ff" stroke-width="0.75"/>
<circle cx="396.79" cy="77.16" r="1.7" fill="none" stroke="#0000ff" stroke-width="0.75"/>
<circle cx="399.17" cy="83.73" r="1.7" fill="none" stroke="#0000ff" stroke-width="0.75"/>
<circle cx="401.55" cy="83.9" r="1.7" fill="none" stroke="#0000ff" stroke-width="0.75"/>
<circle cx="403.93" cy="85.71" r="1.7" fill="none" stroke="#0000ff" stroke-width="0.75"/>
<circle cx="406.31" cy="91.08" r="1.7" fill="none" stroke="#0000ff" stroke-width="0.75"/>
<circle cx="408.69" cy="95.35" r="1.7" fill="none" stroke="#0000ff" stroke-width="0.75"/>
<circle cx="411.07" cy="99.96" r="1.7" fill="none" stroke="#0000ff" stroke-width="0.75"/>
<circle cx="413.45" cy="101.45" r="1.7" fill="none" stroke="#0000ff" stroke-width="0.75"/>
<circle cx="415.83" cy="106.75" r="1.7" fill="none" stroke="#0000ff" stroke-width="0.75"/>
<circle cx="418.21" cy="110.63" r="1.7" fill="none" stroke="#0000ff" stroke-width="0.75"/>
<circle cx="420.6" cy="114.97" r="1.7" fill="none" stroke="#0000ff" stroke-width="0.75"/>
<circle cx="422.98" cy="118.83" r="1.7" fill="none" stroke="#0000ff" stroke-width="0.75"/>
<circle cx="425.36" cy="122.04" r="1.7" fill="none" stroke="#0000ff" stroke-width="0.75"/>
<circle cx="427.74" cy="125.46" r="1.7" fill="none" stroke="#0000ff" stroke-width="0.75"/>
<circle cx="430.12" cy="127.3" r="1.7" fill="none" stroke="#0000ff" stroke-width="0.75"/>
<circle cx="432.5" cy="132.16" r="1.7" fill="none" stroke="#0000ff" stroke-width="0.75"/>
<rect x="281" y="138.46" width="3.0" height="3.0" fill="none" stroke="#159a15" stroke-width="0.75"/>
<rect x="283.38" y="133.28" width="3.0" height="3.0" fill="none" stroke="#159a15" stroke-width="0.75"/>
<rect x="285.76" y="129.22" width="3.0" height="3.0" fill="none" stroke="#159a15" stroke-width="0.75"/>
<rect x="288.14" y="122.41" width="3.0" height="3.0" fill="none" stroke="#159a15" stroke-width="0.75"/>
<rect x="290.52" y="116.93" width="3.0" height="3.0" fill="none" stroke="#159a15" stroke-width="0.75"/>
<rect x="292.9" y="111.76" width="3.0" height="3.0" fill="none" stroke="#159a15" stroke-width="0.75"/>
<rect x="295.29" y="106.2" width="3.0" height="3.0" fill="none" stroke="#159a15" stroke-width="0.75"/>
<rect x="297.67" y="102.5" width="3.0" height="3.0" fill="none" stroke="#159a15" stroke-width="0.75"/>
<rect x="300.05" y="99.62" width="3.0" height="3.0" fill="none" stroke="#159a15" stroke-width="0.75"/>
<rect x="302.43" y="95.25" width="3.0" height="3.0" fill="none" stroke="#159a15" stroke-width="0.75"/>
<rect x="304.81" y="91.16" width="3.0" height="3.0" fill="none" stroke="#159a15" stroke-width="0.75"/>
<rect x="307.19" y="87.82" width="3.0" height="3.0" fill="none" stroke="#159a15" stroke-width="0.75"/>
<rect x="309.57" y="84.73" width="3.0" height="3.0" fill="none" stroke="#159a15" stroke-width="0.75"/>
<rect x="311.95" y="79.23" width="3.0" height="3.0" fill="none" stroke="#159a15" stroke-width="0.75"/>
<rect x="314.33" y="76.2" width="3.0" height="3.0" fill="none" stroke="#159a15" stroke-width="0.75"/>
<rect x="316.71" y="72.46" width="3.0" height="3.0" fill="none" stroke="#159a15" stroke-width="0.75"/>
<rect x="319.1" y="70.32" width="3.0" height="3.0" fill="none" stroke="#159a15" stroke-width="0.75"/>
<rect x="321.48" y="69.81" width="3.0" height="3.0" fill="none" stroke="#159a15" stroke-width="0.75"/>
<rect x="323.86" y="66.59" width="3.0" height="3.0" fill="none" stroke="#159a15" stroke-width="0.75"/>
<rect x="326.24" y="64.42" width="3.0" height="3.0" fill="none" stroke="#159a15" stroke-width="0.75"/>
<rect x="328.62" y="62.69" width="3.0" height="3.0" fill="none" stroke="#159a15" stroke-width="0.75"/>
<rect x="331" y="58.9" width="3.0" height="3.0" fill="none" stroke="#159a15" stroke-width="0.75"/>
<rect x="333.38" y="55.34" width="3.0" height="3.0" fill="none" stroke="#159a15" stroke-width="0.75"/>
<rect x="335.76" y="54.84" width="3.0" height="3.0" fill="none" stroke="#159a15" stroke-width="0.75"/>
<rect x="338.14" y="54.05" width="3.0" height="3.0" fill="none" stroke="#159a15" stroke-width="0.75"/>
<rect x="340.52" y="51.62" width="3.0" height="3.0" fill="none" stroke="#159a15" stroke-width="0.75"/>
<rect x="342.9" y="50.49" width="3.0" height="3.0" fill="none" stroke="#159a15" stroke-width="0.75"/>
<rect x="345.29" y="51.57" width="3.0" height="3.0" fill="none" stroke="#159a15" stroke-width="0.75"/>
<rect x="347.67" y="51.64" width="3.0" height="3.0" fill="none" stroke="#159a15" stroke-width="0.75"/>
<rect x="350.05" y="53.24" width="3.0" height="3.0" fill="none" stroke="#159a15" stroke-width="0.75"/>
<rect x="352.43" y="52.22" width="3.0" height="3.0" fill="none" stroke="#159a15" stroke-width="0.75"/>
<rect x="354.81" y="52.26" width="3.0" height="3.0" fill="none" stroke="#159a15" stroke-width="0.75"/>
<rect x="357.19" y="51.98" width="3.0" height="3.0" fill="none" stroke="#159a15" stroke-width="0.75"/>
<rect x="359.57" y="34" width="3.0" height="3.0" fill="none" stroke="#159a15" stroke-width="0.75"/>
<rect x="361.95" y="51.85" width="3.0" height="3.0" fill="none" stroke="#159a15" stroke-width="0.75"/>
<rect x="364.33" y="52.31" width="3.0" height="3.0" fill="none" stroke="#159a15" stroke-width="0.75"/>
<rect x="366.71" y="53.74" width="3.0" height="3.0" fill="none" stroke="#159a15" stroke-width="0.75"/>
<rect x="369.1" y="57.26" width="3.0" height="3.0" fill="none" stroke="#159a15" stroke-width="0.75"/>
<rect x="371.48" y="55.61" width="3.0" height="3.0" fill="none" stroke="#159a15" stroke-width="0.75"/>
<rect x="373.86" y="58.54" width="3.0" height="3.0" fill="none" stroke="#159a15" stroke-width="0.75"/>
<rect x="376.24" y="60.41" width="3.0" height="3.0" fill="none" stroke="#159a15" stroke-width="0.75"/>
<rect x="378.62" y="61.81" width="3.0" height="3.0" fill="none" stroke="#159a15" stroke-width="0.75"/>
<rect x="381" y="64.92" width="3.0" height="3.0" fill="none" stroke="#159a15" stroke-width="0.75"/>
<rect x="383.38" y="65.38" width="3.0" height="3.0" fill="none" stroke="#159a15" stroke-width="0.75"/>
<rect x="385.76" y="66.58" width="3.0" height="3.0" fill="none" stroke="#159a15" stroke-width="0.75"/>
<rect x="388.14" y="70.95" width="3.0" height="3.0" fill="none" stroke="#159a15" stroke-width="0.75"/>
<rect x="390.52" y="72.9" width="3.0" height="3.0" fill="none" stroke="#159a15" stroke-width="0.75"/>
<rect x="392.9" y="77.38" width="3.0" height="3.0" fill="none" stroke="#159a15" stroke-width="0.75"/>
<rect x="395.29" y="79.88" width="3.0" height="3.0" fill="none" stroke="#159a15" stroke-width="0.75"/>
<rect x="397.67" y="81.64" width="3.0" height="3.0" fill="none" stroke="#159a15" stroke-width="0.75"/>
<rect x="400.05" y="89.93" width="3.0" height="3.0" fill="none" stroke="#159a15" stroke-width="0.75"/>
<rect x="402.43" y="92.08" width="3.0" height="3.0" fill="none" stroke="#159a15" stroke-width="0.75"/>
<rect x="404.81" y="95.86" width="3.0" height="3.0" fill="none" stroke="#159a15" stroke-width="0.75"/>
<rect x="407.19" y="99.69" width="3.0" height="3.0" fill="none" stroke="#159a15" stroke-width="0.75"/>
<rect x="409.57" y="104.64" width="3.0" height="3.0" fill="none" stroke="#159a15" stroke-width="0.75"/>
<rect x="411.95" y="107.11" width="3.0" height="3.0" fill="none" stroke="#159a15" stroke-width="0.75"/>
<rect x="414.33" y="109.85" width="3.0" height="3.0" fill="none" stroke="#159a15" stroke-width="0.75"/>
<rect x="416.71" y="114.27" width="3.0" height="3.0" fill="none" stroke="#159a15" stroke-width="0.75"/>
<rect x="419.1" y="117.26" width="3.0" height="3.0" fill="none" stroke="#159a15" stroke-width="0.75"/>
<rect x="421.48" y="121.13" width="3.0" height="3.0" fill="none" stroke="#159a15" stroke-width="0.75"/>
<rect x="423.86" y="123.12" width="3.0" height="3.0" fill="none" stroke="#159a15" stroke-width="0.75"/>
<rect x="426.24" y="128.17" width="3.0" height="3.0" fill="none" stroke="#159a15" stroke-width="0.75"/>
<rect x="428.62" y="130.1" width="3.0" height="3.0" fill="none" stroke="#159a15" stroke-width="0.75"/>
<rect x="431" y="131.92" width="3.0" height="3.0" fill="none" stroke="#159a15" stroke-width="0.75"/>
<path d="M282.5 129.71L284.8 132.01L282.5 134.31L280.2 132.01Z" fill="none" stroke="#ff0000" stroke-width="0.75"/>
<path d="M284.88 125.22L287.18 127.52L284.88 129.82L282.58 127.52Z" fill="none" stroke="#ff0000" stroke-width="0.75"/>
<path d="M287.26 118.51L289.56 120.81L287.26 123.11L284.96 120.81Z" fill="none" stroke="#ff0000" stroke-width="0.75"/>
<path d="M289.64 114.67L291.94 116.97L289.64 119.27L287.34 116.97Z" fill="none" stroke="#ff0000" stroke-width="0.75"/>
<path d="M292.02 105.94L294.32 108.24L292.02 110.54L289.72 108.24Z" fill="none" stroke="#ff0000" stroke-width="0.75"/>
<path d="M294.4 102.86L296.7 105.16L294.4 107.46L292.1 105.16Z" fill="none" stroke="#ff0000" stroke-width="0.75"/>
<path d="M296.79 97.71L299.09 100.01L296.79 102.31L294.49 100.01Z" fill="none" stroke="#ff0000" stroke-width="0.75"/>
<path d="M299.17 93.11L301.47 95.41L299.17 97.71L296.87 95.41Z" fill="none" stroke="#ff0000" stroke-width="0.75"/>
<path d="M301.55 89.18L303.85 91.48L301.55 93.78L299.25 91.48Z" fill="none" stroke="#ff0000" stroke-width="0.75"/>
<path d="M303.93 85.37L306.23 87.67L303.93 89.97L301.63 87.67Z" fill="none" stroke="#ff0000" stroke-width="0.75"/>
<path d="M306.31 84.01L308.61 86.31L306.31 88.61L304.01 86.31Z" fill="none" stroke="#ff0000" stroke-width="0.75"/>
<path d="M308.69 77.45L310.99 79.75L308.69 82.05L306.39 79.75Z" fill="none" stroke="#ff0000" stroke-width="0.75"/>
<path d="M311.07 74.51L313.37 76.81L311.07 79.11L308.77 76.81Z" fill="none" stroke="#ff0000" stroke-width="0.75"/>
<path d="M313.45 71.3L315.75 73.6L313.45 75.9L311.15 73.6Z" fill="none" stroke="#ff0000" stroke-width="0.75"/>
<path d="M315.83 68.97L318.13 71.27L315.83 73.57L313.53 71.27Z" fill="none" stroke="#ff0000" stroke-width="0.75"/>
<path d="M318.21 65.82L320.51 68.12L318.21 70.42L315.91 68.12Z" fill="none" stroke="#ff0000" stroke-width="0.75"/>
<path d="M320.6 60.4L322.9 62.7L320.6 65L318.3 62.7Z" fill="none" stroke="#ff0000" stroke-width="0.75"/>
<path d="M322.98 62.84L325.28 65.14L322.98 67.44L320.68 65.14Z" fill="none" stroke="#ff0000" stroke-width="0.75"/>
<path d="M325.36 61.27L327.66 63.57L325.36 65.87L323.06 63.57Z" fill="none" stroke="#ff0000" stroke-width="0.75"/>
<path d="M327.74 59.84L330.04 62.14L327.74 64.44L325.44 62.14Z" fill="none" stroke="#ff0000" stroke-width="0.75"/>
<path d="M330.12 57.93L332.42 60.23L330.12 62.53L327.82 60.23Z" fill="none" stroke="#ff0000" stroke-width="0.75"/>
<path d="M332.5 55.09L334.8 57.39L332.5 59.69L330.2 57.39Z" fill="none" stroke="#ff0000" stroke-width="0.75"/>
<path d="M334.88 54.19L337.18 56.49L334.88 58.79L332.58 56.49Z" fill="none" stroke="#ff0000" stroke-width="0.75"/>
<path d="M337.26 52.38L339.56 54.68L337.26 56.98L334.96 54.68Z" fill="none" stroke="#ff0000" stroke-width="0.75"/>
<path d="M339.64 55.98L341.94 58.28L339.64 60.58L337.34 58.28Z" fill="none" stroke="#ff0000" stroke-width="0.75"/>
<path d="M342.02 52.99L344.32 55.29L342.02 57.59L339.72 55.29Z" fill="none" stroke="#ff0000" stroke-width="0.75"/>
<path d="M344.4 52.99L346.7 55.29L344.4 57.59L342.1 55.29Z" fill="none" stroke="#ff0000" stroke-width="0.75"/>
<path d="M346.79 51.36L349.09 53.66L346.79 55.96L344.49 53.66Z" fill="none" stroke="#ff0000" stroke-width="0.75"/>
<path d="M349.17 55.04L351.47 57.34L349.17 59.64L346.87 57.34Z" fill="none" stroke="#ff0000" stroke-width="0.75"/>
<path d="M351.55 56.91L353.85 59.21L351.55 61.51L349.25 59.21Z" fill="none" stroke="#ff0000" stroke-width="0.75"/>
<path d="M353.93 52.68L356.23 54.98L353.93 57.28L351.63 54.98Z" fill="none" stroke="#ff0000" stroke-width="0.75"/>
<path d="M356.31 54.95L358.61 57.25L356.31 59.55L354.01 57.25Z" fill="none" stroke="#ff0000" stroke-width="0.75"/>
<path d="M358.69 51.01L360.99 53.31L358.69 55.61L356.39 53.31Z" fill="none" stroke="#ff0000" stroke-width="0.75"/>
<path d="M361.07 34.8L363.37 37.1L361.07 39.4L358.77 37.1Z" fill="none" stroke="#ff0000" stroke-width="0.75"/>
<path d="M363.45 56.02L365.75 58.32L363.45 60.62L361.15 58.32Z" fill="none" stroke="#ff0000" stroke-width="0.75"/>
<path d="M365.83 58.47L368.13 60.77L365.83 63.07L363.53 60.77Z" fill="none" stroke="#ff0000" stroke-width="0.75"/>
<path d="M368.21 59.91L370.51 62.21L368.21 64.51L365.91 62.21Z" fill="none" stroke="#ff0000" stroke-width="0.75"/>
<path d="M370.6 62.37L372.9 64.67L370.6 66.97L368.3 64.67Z" fill="none" stroke="#ff0000" stroke-width="0.75"/>
<path d="M372.98 62.65L375.28 64.95L372.98 67.25L370.68 64.95Z" fill="none" stroke="#ff0000" stroke-width="0.75"/>
<path d="M375.36 70.2L377.66 72.5L375.36 74.8L373.06 72.5Z" fill="none" stroke="#ff0000" stroke-width="0.75"/>
<path d="M377.74 70.7L380.04 73L377.74 75.3L375.44 73Z" fill="none" stroke="#ff0000" stroke-width="0.75"/>
<path d="M380.12 68.51L382.42 70.81L380.12 73.11L377.82 70.81Z" fill="none" stroke="#ff0000" stroke-width="0.75"/>
<path d="M382.5 67.87L384.8 70.17L382.5 72.47L380.2 70.17Z" fill="none" stroke="#ff0000" stroke-width="0.75"/>
<path d="M384.88 69.21L387.18 71.51L384.88 73.81L382.58 71.51Z" fill="none" stroke="#ff0000" stroke-width="0.75"/>
<path d="M387.26 69.59L389.56 71.89L387.26 74.19L384.96 71.89Z" fill="none" stroke="#ff0000" stroke-width="0.75"/>
<path d="M389.64 76.97L391.94 79.27L389.64 81.57L387.34 79.27Z" fill="none" stroke="#ff0000" stroke-width="0.75"/>
<path d="M392.02 81.15L394.32 83.45L392.02 85.75L389.72 83.45Z" fill="none" stroke="#ff0000" stroke-width="0.75"/>
<path d="M394.4 83.28L396.7 85.58L394.4 87.88L392.1 85.58Z" fill="none" stroke="#ff0000" stroke-width="0.75"/>
<path d="M396.79 87.26L399.09 89.56L396.79 91.86L394.49 89.56Z" fill="none" stroke="#ff0000" stroke-width="0.75"/>
<path d="M399.17 88.81L401.47 91.11L399.17 93.41L396.87 91.11Z" fill="none" stroke="#ff0000" stroke-width="0.75"/>
<path d="M401.55 93.62L403.85 95.92L401.55 98.22L399.25 95.92Z" fill="none" stroke="#ff0000" stroke-width="0.75"/>
<path d="M403.93 94.77L406.23 97.07L403.93 99.37L401.63 97.07Z" fill="none" stroke="#ff0000" stroke-width="0.75"/>
<path d="M406.31 99.76L408.61 102.06L406.31 104.36L404.01 102.06Z" fill="none" stroke="#ff0000" stroke-width="0.75"/>
<path d="M408.69 103.26L410.99 105.56L408.69 107.86L406.39 105.56Z" fill="none" stroke="#ff0000" stroke-width="0.75"/>
<path d="M411.07 106.13L413.37 108.43L411.07 110.73L408.77 108.43Z" fill="none" stroke="#ff0000" stroke-width="0.75"/>
<path d="M413.45 108.85L415.75 111.15L413.45 113.45L411.15 111.15Z" fill="none" stroke="#ff0000" stroke-width="0.75"/>
<path d="M415.83 111.63L418.13 113.93L415.83 116.23L413.53 113.93Z" fill="none" stroke="#ff0000" stroke-width="0.75"/>
<path d="M418.21 115L420.51 117.3L418.21 119.6L415.91 117.3Z" fill="none" stroke="#ff0000" stroke-width="0.75"/>
<path d="M420.6 117.44L422.9 119.74L420.6 122.04L418.3 119.74Z" fill="none" stroke="#ff0000" stroke-width="0.75"/>
<path d="M422.98 122.62L425.28 124.92L422.98 127.22L420.68 124.92Z" fill="none" stroke="#ff0000" stroke-width="0.75"/>
<path d="M425.36 126.05L427.66 128.35L425.36 130.65L423.06 128.35Z" fill="none" stroke="#ff0000" stroke-width="0.75"/>
<path d="M427.74 128.51L430.04 130.81L427.74 133.11L425.44 130.81Z" fill="none" stroke="#ff0000" stroke-width="0.75"/>
<path d="M430.12 133.61L432.42 135.91L430.12 138.21L427.82 135.91Z" fill="none" stroke="#ff0000" stroke-width="0.75"/>
<path d="M432.5 139.77L434.8 142.07L432.5 144.37L430.2 142.07Z" fill="none" stroke="#ff0000" stroke-width="0.75"/>
<text x="292.1" y="35.1" font-size="9.4" text-anchor="start" font-weight="bold" font-style="normal" fill="#ff0000" font-family="Liberation Sans">70 kOe</text>
<text x="292.1" y="48.4" font-size="9.4" text-anchor="start" font-weight="bold" font-style="normal" fill="#159a15" font-family="Liberation Sans">50 kOe</text>
<text x="292.1" y="61.7" font-size="9.4" text-anchor="start" font-weight="bold" font-style="normal" fill="#0000ff" font-family="Liberation Sans">0 kOe</text>
<path d="M355.6 87.1L382.3 102.1L382.3 151.6L355.6 136.6Z" fill="#fedb6c" stroke="none" stroke-width="1" />
<path d="M382.3 102.1L385.5 100.4L385.5 149.9L382.3 151.6Z" fill="#e6c05a" stroke="none" stroke-width="1" />
<path d="M355.6 87.1L358.8 85.4L385.5 100.4L382.3 102.1Z" fill="#fee8a2" stroke="none" stroke-width="1" />
<line x1="350.9" y1="139" x2="350.9" y2="110.5" stroke="#111" stroke-width="0.9" />
<path d="M350.9 105.4L353.3 110.6L348.5 110.6Z" fill="#111" stroke="none" stroke-width="1" />
<path d="M374.9 151.6L368.82 151.35L371.24 146.74Z" fill="#111" stroke="none" stroke-width="1" />
<line x1="350.9" y1="139" x2="370.03" y2="149.04" stroke="#111" stroke-width="0.9" />
<polyline points="330,154.75 330.12,154.69 330.22,154.6 330.31,154.46 330.38,154.28 330.43,154.06 330.47,153.8 330.5,153.51 330.51,153.19 330.52,152.85 330.51,152.49 330.5,152.11 330.49,151.71 330.47,151.31 330.45,150.91 330.43,150.51 330.42,150.13 330.41,149.75 330.41,149.39 330.42,149.06 330.43,148.75 330.47,148.47 330.51,148.23 330.57,148.02 330.64,147.85 330.73,147.73 330.84,147.64 330.97,147.6 331.11,147.6 331.27,147.65 331.45,147.74 331.64,147.86 331.85,148.03 332.07,148.23 332.3,148.46 332.55,148.72 332.81,149 333.07,149.31 333.34,149.63 333.61,149.96 333.89,150.29 334.16,150.62 334.44,150.95 334.7,151.27 334.97,151.57 335.22,151.86 335.47,152.12 335.7,152.35 335.93,152.55 336.13,152.72 336.33,152.84 336.5,152.93 336.66,152.98 336.8,152.98 336.93,152.94 337.04,152.85 337.13,152.73 337.2,152.56 337.26,152.35 337.31,152.11 337.34,151.83 337.36,151.52 337.36,151.19 337.36,150.83 337.35,150.45 337.34,150.06 337.32,149.67 337.3,149.27 337.29,148.87 337.27,148.47 337.26,148.09 337.26,147.73 337.26,147.38 337.28,147.07 337.3,146.78 337.34,146.52 337.4,146.3 337.47,146.12 337.55,145.98 337.65,145.88 337.77,145.83 337.91,145.82 338.06,145.85 338.24,145.92 338.42,146.04 338.63,146.19 338.84,146.38 339.07,146.6 339.32,146.85 339.57,147.13 339.83,147.42 340.1,147.74 340.37,148.06 340.64,148.4 340.92,148.73 341.19,149.06 341.46,149.39 341.73,149.69 341.99,149.99 342.24,150.25 342.48,150.5 342.7,150.71 342.91,150.88 343.11,151.02 343.29,151.12 343.46,151.18 343.61,151.2 343.74,151.18 343.85,151.11 343.95,150.99 344.03,150.84 344.09,150.65 344.14,150.41 344.18,150.15 344.2,149.85 344.21,149.52 344.21,149.17 344.21,148.8 344.19,148.41 344.18,148.02 344.16,147.62 344.14,147.22 344.12,146.82 344.11,146.44 344.11,146.07 344.11,145.72 344.12,145.39 344.14,145.09 344.18,144.82 344.22,144.59 344.29,144.4 344.37,144.24 344.47,144.13 344.58,144.06 344.71,144.04 344.86,144.05 345.03,144.11 345.21,144.21 345.41,144.35 345.62,144.53 345.84,144.74 346.08,144.98 346.33,145.25 346.59,145.54 346.86,145.85 347.13,146.17 347.4,146.51 347.68,146.84 347.95,147.17 348.22,147.5 348.49,147.81 348.75,148.11 349,148.39 349.25,148.64 349.48,148.86 349.69,149.05 349.9,149.2 350.08,149.32 350.25,149.39 350.41,149.42 350.55,149.41 350.67,149.35 350.77,149.25 350.85,149.11 350.92,148.93 350.98,148.71 351.02,148.46 351.04,148.17 351.06,147.85 351.06,147.51 351.06,147.15 351.05,146.76 351.03,146.37 351.01,145.97 351,145.57 350.98,145.17 350.96,144.78 350.96,144.41 350.95,144.05 350.96,143.71 350.98,143.41 351.01,143.13 351.06,142.88 351.11,142.68 351.19,142.51 351.28,142.38 351.39,142.3 351.51,142.26 351.66,142.26 351.82,142.31 351.99,142.39 352.19,142.52 352.39,142.69 352.62,142.89 352.85,143.12 353.1,143.38 353.35,143.66 353.61,143.97 353.88,144.28 354.16,144.61 354.43,144.95 354.71,145.28 354.98,145.61 355.25,145.93 355.51,146.23 355.77,146.52 356.01,146.78 356.25,147.01 356.47,147.21 356.68,147.37 356.87,147.5 357.05,147.59 357.21,147.63 357.35,147.64 357.48,147.6 357.58,147.51 357.68,147.39 357.75,147.22 357.81,147.01 357.85,146.77 357.88,146.49 357.9,146.18 357.91,145.85 357.91,145.49 357.9,145.11 357.89,144.72 357.87,144.32 357.85,143.92 357.83,143.52 357.82,143.13 357.81,142.75 357.8,142.39 357.81,142.04 357.82,141.72 357.85,141.44 357.89,141.18 357.94,140.96 358.01,140.78 358.1,140.64 358.2,140.54 358.32,140.49" fill="none" stroke="#0000ff" stroke-width="1.6" stroke-linejoin="round" />
<path d="M366.3 139.2L361.4 142.73L360.54 137.39Z" fill="#0000ff" stroke="none" stroke-width="1" />
<line x1="358.32" y1="140.49" x2="360.97" y2="140.06" stroke="#0000ff" stroke-width="1.45" />
<text x="321.5" y="156.6" font-size="9.6" text-anchor="start" font-weight="normal" font-style="normal" fill="#0000ff" font-family="Liberation Sans">k</text>
<text x="370.3" y="160.8" font-size="9.7" text-anchor="start" font-weight="normal" font-style="normal" fill="#111" font-family="Liberation Sans">bond</text>
<text x="340.9" y="134.9" font-size="9.6" text-anchor="start" font-weight="normal" font-style="normal" fill="#111" font-family="Liberation Sans" transform="rotate(-90 340.9 134.9)">Perpendicular</text>
<path d="M367.7 95.5L370.1 100.7L365.3 100.7Z" fill="#ff0000" stroke="none" stroke-width="1" />
<line x1="367.7" y1="122.8" x2="367.7" y2="100.7" stroke="#ff0000" stroke-width="1.1" />
<text x="361.2" y="133.4" font-family="Liberation Sans" font-weight="bold" font-style="italic" fill="#ff0000" font-size="10.3">H<tspan font-size="6.6" dy="1.9">ext</tspan></text>
<line x1="282.5" y1="23" x2="432.5" y2="23" stroke="#222" stroke-width="1" />
<line x1="282.5" y1="163.7" x2="432.5" y2="163.7" stroke="#222" stroke-width="1" />
<line x1="282.5" y1="23" x2="282.5" y2="163.7" stroke="#222" stroke-width="1" />
<line x1="432.5" y1="23" x2="432.5" y2="163.7" stroke="#222" stroke-width="1" />
<line x1="282.5" y1="163.7" x2="282.5" y2="160.7" stroke="#222" stroke-width="1.2" />
<text x="282.5" y="177" font-size="9.4" text-anchor="middle" font-weight="normal" font-style="normal" fill="#111" font-family="Liberation Sans">4.1</text>
<line x1="332.5" y1="163.7" x2="332.5" y2="160.7" stroke="#222" stroke-width="1.2" />
<text x="332.5" y="177" font-size="9.4" text-anchor="middle" font-weight="normal" font-style="normal" fill="#111" font-family="Liberation Sans">4.2</text>
<line x1="382.5" y1="163.7" x2="382.5" y2="160.7" stroke="#222" stroke-width="1.2" />
<text x="382.5" y="177" font-size="9.4" text-anchor="middle" font-weight="normal" font-style="normal" fill="#111" font-family="Liberation Sans">4.3</text>
<line x1="432.5" y1="163.7" x2="432.5" y2="160.7" stroke="#222" stroke-width="1.2" />
<text x="432.5" y="177" font-size="9.4" text-anchor="middle" font-weight="normal" font-style="normal" fill="#111" font-family="Liberation Sans">4.4</text>
<line x1="307.5" y1="163.7" x2="307.5" y2="162.2" stroke="#222" stroke-width="1" />
<line x1="357.5" y1="163.7" x2="357.5" y2="162.2" stroke="#222" stroke-width="1" />
<line x1="407.5" y1="163.7" x2="407.5" y2="162.2" stroke="#222" stroke-width="1" />
<line x1="282.5" y1="147.8" x2="285.5" y2="147.8" stroke="#222" stroke-width="1.2" />
<text x="277.9" y="151.1" font-size="9.4" text-anchor="end" font-weight="normal" font-style="normal" fill="#111" font-family="Liberation Sans">1.9</text>
<line x1="282.5" y1="116.6" x2="285.5" y2="116.6" stroke="#222" stroke-width="1.2" />
<text x="277.9" y="119.9" font-size="9.4" text-anchor="end" font-weight="normal" font-style="normal" fill="#111" font-family="Liberation Sans">2.0</text>
<line x1="282.5" y1="85.4" x2="285.5" y2="85.4" stroke="#222" stroke-width="1.2" />
<text x="277.9" y="88.7" font-size="9.4" text-anchor="end" font-weight="normal" font-style="normal" fill="#111" font-family="Liberation Sans">2.1</text>
<line x1="282.5" y1="54.2" x2="285.5" y2="54.2" stroke="#222" stroke-width="1.2" />
<text x="277.9" y="57.5" font-size="9.4" text-anchor="end" font-weight="normal" font-style="normal" fill="#111" font-family="Liberation Sans">2.2</text>
<line x1="282.5" y1="23" x2="285.5" y2="23" stroke="#222" stroke-width="1.2" />
<text x="277.9" y="26.3" font-size="9.4" text-anchor="end" font-weight="normal" font-style="normal" fill="#111" font-family="Liberation Sans">2.3</text>
<line x1="282.5" y1="132.2" x2="284" y2="132.2" stroke="#222" stroke-width="1" />
<line x1="282.5" y1="101" x2="284" y2="101" stroke="#222" stroke-width="1" />
<line x1="282.5" y1="69.8" x2="284" y2="69.8" stroke="#222" stroke-width="1" />
<line x1="282.5" y1="38.6" x2="284" y2="38.6" stroke="#222" stroke-width="1" />
<text x="257.6" y="90.9" font-size="9.4" text-anchor="middle" font-weight="normal" font-style="normal" fill="#111" font-family="Liberation Sans" transform="rotate(-90 257.6 90.9)">Absorbance</text>
<text x="357.6" y="191.8" text-anchor="middle" font-size="9.4" font-family="Liberation Sans" fill="#111"><tspan font-family="Liberation Serif" font-style="italic" font-size="10.4">ħω</tspan> (eV)</text>
<text x="244.7" y="6.9" font-size="9.6" text-anchor="start" font-weight="bold" font-style="normal" fill="#111" font-family="Liberation Sans">b</text>
<line x1="130.9" y1="209.6" x2="130.9" y2="348.6" stroke="#ff7070" stroke-width="1.1" stroke-dasharray="4.4 2.8"/>
<polyline points="44.6,247.2 45.4,247.21 46.5,247.22 47.8,247.23 49.21,247.25 50.65,247.27 52,247.3 53.3,247.33 54.62,247.36 55.96,247.39 57.31,247.43 58.66,247.5 60,247.6 61.33,247.72 62.67,247.84 64,247.99 65.33,248.18 66.67,248.41 68,248.7 69.33,249.05 70.67,249.46 72,249.91 73.33,250.41 74.67,250.94 76,251.5 77.33,252.1 78.67,252.74 80,253.42 81.33,254.13 82.67,254.86 84,255.6 85.33,256.35 86.67,257.13 88,257.93 89.33,258.74 90.67,259.57 92,260.4 93.37,261.27 94.78,262.17 96.19,263.09 97.56,263.99 98.84,264.84 100,265.6 100.98,266.24 101.81,266.78 102.56,267.27 103.3,267.75 104.09,268.28 105,268.9 106.03,269.61 107.12,270.38 108.26,271.19 109.46,272.04 110.71,272.91 112,273.8 113.38,274.73 114.86,275.7 116.39,276.7 117.92,277.7 119.41,278.68 120.8,279.6 122.1,280.48 123.35,281.33 124.56,282.15 125.73,282.95 126.87,283.73 128,284.5 129.11,285.24 130.19,285.96 131.24,286.65 132.28,287.33 133.3,288.01 134.3,288.7 135.22,289.33 136.03,289.9 136.82,290.46 137.69,291.09 138.72,291.85 140,292.8 141.63,294.03 143.55,295.49 145.63,297.08 147.75,298.69 149.78,300.24 151.6,301.6 153.2,302.78 154.67,303.85 156.06,304.84 157.39,305.8 158.69,306.74 160,307.7 161.26,308.65 162.43,309.54 163.57,310.43 164.76,311.34 166.05,312.32 167.5,313.4 169.28,314.69 171.37,316.19 173.57,317.76 175.66,319.24 177.44,320.5 178.7,321.4" fill="none" stroke="#ff0000" stroke-width="1.7" stroke-linejoin="round" />
<line x1="44.5" y1="245.8" x2="44.5" y2="246.5" stroke="#111" stroke-width="0.8" />
<line x1="44.5" y1="252.3" x2="44.5" y2="253" stroke="#111" stroke-width="0.8" />
<line x1="42.2" y1="245.8" x2="46.8" y2="245.8" stroke="#111" stroke-width="0.8" />
<line x1="42.2" y1="253" x2="46.8" y2="253" stroke="#111" stroke-width="0.8" />
<circle cx="44.5" cy="249.4" r="2.9" fill="none" stroke="#111" stroke-width="0.9"/>
<line x1="63.7" y1="242.3" x2="63.7" y2="243.7" stroke="#111" stroke-width="0.8" />
<line x1="63.7" y1="249.5" x2="63.7" y2="250.9" stroke="#111" stroke-width="0.8" />
<line x1="61.4" y1="242.3" x2="66" y2="242.3" stroke="#111" stroke-width="0.8" />
<line x1="61.4" y1="250.9" x2="66" y2="250.9" stroke="#111" stroke-width="0.8" />
<circle cx="63.7" cy="246.6" r="2.9" fill="none" stroke="#111" stroke-width="0.9"/>
<circle cx="82.9" cy="258.4" r="2.9" fill="none" stroke="#111" stroke-width="0.9"/>
<line x1="102.1" y1="259.6" x2="102.1" y2="260.9" stroke="#111" stroke-width="0.8" />
<line x1="102.1" y1="266.7" x2="102.1" y2="268" stroke="#111" stroke-width="0.8" />
<line x1="99.8" y1="259.6" x2="104.4" y2="259.6" stroke="#111" stroke-width="0.8" />
<line x1="99.8" y1="268" x2="104.4" y2="268" stroke="#111" stroke-width="0.8" />
<circle cx="102.1" cy="263.8" r="2.9" fill="none" stroke="#111" stroke-width="0.9"/>
<line x1="121.3" y1="275.3" x2="121.3" y2="276.7" stroke="#111" stroke-width="0.8" />
<line x1="121.3" y1="282.5" x2="121.3" y2="283.9" stroke="#111" stroke-width="0.8" />
<line x1="119" y1="275.3" x2="123.6" y2="275.3" stroke="#111" stroke-width="0.8" />
<line x1="119" y1="283.9" x2="123.6" y2="283.9" stroke="#111" stroke-width="0.8" />
<circle cx="121.3" cy="279.6" r="2.9" fill="none" stroke="#111" stroke-width="0.9"/>
<line x1="140.5" y1="286.5" x2="140.5" y2="287.5" stroke="#111" stroke-width="0.8" />
<line x1="140.5" y1="293.3" x2="140.5" y2="294.3" stroke="#111" stroke-width="0.8" />
<line x1="138.2" y1="286.5" x2="142.8" y2="286.5" stroke="#111" stroke-width="0.8" />
<line x1="138.2" y1="294.3" x2="142.8" y2="294.3" stroke="#111" stroke-width="0.8" />
<circle cx="140.5" cy="290.4" r="2.9" fill="none" stroke="#111" stroke-width="0.9"/>
<line x1="159.7" y1="300.8" x2="159.7" y2="301.8" stroke="#111" stroke-width="0.8" />
<line x1="159.7" y1="307.6" x2="159.7" y2="308.6" stroke="#111" stroke-width="0.8" />
<line x1="157.4" y1="300.8" x2="162" y2="300.8" stroke="#111" stroke-width="0.8" />
<line x1="157.4" y1="308.6" x2="162" y2="308.6" stroke="#111" stroke-width="0.8" />
<circle cx="159.7" cy="304.7" r="2.9" fill="none" stroke="#111" stroke-width="0.9"/>
<circle cx="178.9" cy="323.7" r="2.9" fill="none" stroke="#111" stroke-width="0.9"/>
<circle cx="44.5" cy="338.7" r="3.0" fill="#ff0000"/>
<circle cx="63.8" cy="325.9" r="3.0" fill="#ff0000"/>
<circle cx="83.2" cy="325.4" r="3.0" fill="#ff0000"/>
<circle cx="102.5" cy="316.3" r="3.0" fill="#ff0000"/>
<circle cx="121.6" cy="313.6" r="3.0" fill="#ff0000"/>
<circle cx="140.3" cy="286.1" r="3.0" fill="#ff0000"/>
<circle cx="159.5" cy="257.2" r="3.0" fill="#ff0000"/>
<circle cx="177.2" cy="224.7" r="3.0" fill="#ff0000"/>
<line x1="37.1" y1="209.1" x2="186.4" y2="209.1" stroke="#555" stroke-width="1" />
<line x1="37.1" y1="349.1" x2="186.4" y2="349.1" stroke="#222" stroke-width="1" />
<line x1="37.1" y1="209.1" x2="37.1" y2="349.1" stroke="#333" stroke-width="1" />
<line x1="186.4" y1="209.1" x2="186.4" y2="349.1" stroke="#ff0000" stroke-width="1" />
<line x1="44.5" y1="349.1" x2="44.5" y2="346.1" stroke="#222" stroke-width="1" />
<text x="44.5" y="362.8" font-size="9.4" text-anchor="middle" font-weight="normal" font-style="normal" fill="#111" font-family="Liberation Sans">0</text>
<line x1="63.7" y1="349.1" x2="63.7" y2="346.1" stroke="#222" stroke-width="1" />
<text x="63.7" y="362.8" font-size="9.4" text-anchor="middle" font-weight="normal" font-style="normal" fill="#111" font-family="Liberation Sans">10</text>
<line x1="82.9" y1="349.1" x2="82.9" y2="346.1" stroke="#222" stroke-width="1" />
<text x="82.9" y="362.8" font-size="9.4" text-anchor="middle" font-weight="normal" font-style="normal" fill="#111" font-family="Liberation Sans">20</text>
<line x1="102.1" y1="349.1" x2="102.1" y2="346.1" stroke="#222" stroke-width="1" />
<text x="102.1" y="362.8" font-size="9.4" text-anchor="middle" font-weight="normal" font-style="normal" fill="#111" font-family="Liberation Sans">30</text>
<line x1="121.3" y1="349.1" x2="121.3" y2="346.1" stroke="#222" stroke-width="1" />
<text x="121.3" y="362.8" font-size="9.4" text-anchor="middle" font-weight="normal" font-style="normal" fill="#111" font-family="Liberation Sans">40</text>
<line x1="140.5" y1="349.1" x2="140.5" y2="346.1" stroke="#222" stroke-width="1" />
<text x="140.5" y="362.8" font-size="9.4" text-anchor="middle" font-weight="normal" font-style="normal" fill="#111" font-family="Liberation Sans">50</text>
<line x1="159.7" y1="349.1" x2="159.7" y2="346.1" stroke="#222" stroke-width="1" />
<text x="159.7" y="362.8" font-size="9.4" text-anchor="middle" font-weight="normal" font-style="normal" fill="#111" font-family="Liberation Sans">60</text>
<line x1="178.9" y1="349.1" x2="178.9" y2="346.1" stroke="#222" stroke-width="1" />
<text x="178.9" y="362.8" font-size="9.4" text-anchor="middle" font-weight="normal" font-style="normal" fill="#111" font-family="Liberation Sans">70</text>
<line x1="37.1" y1="320.6" x2="40.1" y2="320.6" stroke="#222" stroke-width="1" />
<text x="35.5" y="323.1" font-size="9.4" text-anchor="end" font-weight="normal" font-style="normal" fill="#111" font-family="Liberation Sans">4.20</text>
<line x1="37.1" y1="264.8" x2="40.1" y2="264.8" stroke="#222" stroke-width="1" />
<text x="35.5" y="267.3" font-size="9.4" text-anchor="end" font-weight="normal" font-style="normal" fill="#111" font-family="Liberation Sans">4.21</text>
<line x1="37.1" y1="209.1" x2="40.1" y2="209.1" stroke="#222" stroke-width="1" />
<text x="35.5" y="211.6" font-size="9.4" text-anchor="end" font-weight="normal" font-style="normal" fill="#111" font-family="Liberation Sans">4.22</text>
<line x1="37.1" y1="292.7" x2="38.7" y2="292.7" stroke="#222" stroke-width="1" />
<line x1="37.1" y1="236.9" x2="38.7" y2="236.9" stroke="#222" stroke-width="1" />
<line x1="186.4" y1="338.7" x2="183.4" y2="338.7" stroke="#ff0000" stroke-width="1" />
<text x="191" y="342" font-size="9.4" text-anchor="start" font-weight="normal" font-style="normal" fill="#ff0000" font-family="Liberation Sans">1.000</text>
<line x1="186.4" y1="311.7" x2="183.4" y2="311.7" stroke="#ff0000" stroke-width="1" />
<text x="191" y="315" font-size="9.4" text-anchor="start" font-weight="normal" font-style="normal" fill="#ff0000" font-family="Liberation Sans">1.005</text>
<line x1="186.4" y1="284.7" x2="183.4" y2="284.7" stroke="#ff0000" stroke-width="1" />
<text x="191" y="288" font-size="9.4" text-anchor="start" font-weight="normal" font-style="normal" fill="#ff0000" font-family="Liberation Sans">1.010</text>
<line x1="186.4" y1="257.7" x2="183.4" y2="257.7" stroke="#ff0000" stroke-width="1" />
<text x="191" y="261" font-size="9.4" text-anchor="start" font-weight="normal" font-style="normal" fill="#ff0000" font-family="Liberation Sans">1.015</text>
<line x1="186.4" y1="230.7" x2="183.4" y2="230.7" stroke="#ff0000" stroke-width="1" />
<text x="191" y="234" font-size="9.4" text-anchor="start" font-weight="normal" font-style="normal" fill="#ff0000" font-family="Liberation Sans">1.020</text>
<line x1="186.4" y1="325.2" x2="184.8" y2="325.2" stroke="#ff0000" stroke-width="1" />
<line x1="186.4" y1="298.2" x2="184.8" y2="298.2" stroke="#ff0000" stroke-width="1" />
<line x1="186.4" y1="271.2" x2="184.8" y2="271.2" stroke="#ff0000" stroke-width="1" />
<line x1="186.4" y1="244.2" x2="184.8" y2="244.2" stroke="#ff0000" stroke-width="1" />
<line x1="186.4" y1="217.2" x2="184.8" y2="217.2" stroke="#ff0000" stroke-width="1" />
<text x="48.6" y="224" font-size="9.4" font-family="Liberation Sans" fill="#111">Fitted <tspan font-style="italic">H</tspan><tspan font-style="italic" font-size="6.8" dy="2.6">c</tspan></text>
<text x="48.6" y="238.1" font-size="9.4" text-anchor="start" font-weight="normal" font-style="normal" fill="#111" font-family="Liberation Sans">~ 44 ± 6.3 kOe</text>
<text x="9.3" y="276" font-size="9.4" text-anchor="middle" font-weight="normal" font-style="normal" fill="#111" font-family="Liberation Sans" transform="rotate(-90 9.3 276)">Peak position (eV)</text>
<text x="219.8" y="282.6" font-size="9.4" text-anchor="middle" font-weight="normal" font-style="normal" fill="#ff0000" font-family="Liberation Sans" transform="rotate(90 219.8 282.6)">Relative Intensity</text>
<text x="111.6" y="374.8" text-anchor="middle" font-size="9.4" font-family="Liberation Sans" fill="#111"><tspan font-style="italic">H</tspan> (kOe)</text>
<text x="-0.3" y="199.2" font-size="9.6" text-anchor="start" font-weight="bold" font-style="normal" fill="#111" font-family="Liberation Sans">c</text>
<line x1="404.4" y1="210.9" x2="404.4" y2="347.9" stroke="#ff7070" stroke-width="1.1" stroke-dasharray="4.4 2.8"/>
<polyline points="294.2,248.2 294.81,248.2 295.62,248.2 296.6,248.2 297.69,248.2 298.84,248.2 300,248.2 301.23,248.2 302.57,248.2 303.97,248.19 305.38,248.19 306.74,248.19 308,248.2 309.14,248.2 310.19,248.19 311.19,248.19 312.18,248.2 313.21,248.23 314.3,248.3 315.49,248.41 316.76,248.54 318.06,248.7 319.35,248.88 320.58,249.08 321.7,249.3 322.71,249.53 323.63,249.79 324.49,250.06 325.32,250.35 326.15,250.66 327,251 327.87,251.37 328.74,251.77 329.6,252.19 330.46,252.63 331.33,253.07 332.2,253.5 333.08,253.92 333.96,254.34 334.84,254.77 335.73,255.2 336.62,255.64 337.5,256.1 338.38,256.57 339.27,257.05 340.15,257.54 341.03,258.04 341.92,258.56 342.8,259.1 343.68,259.67 344.57,260.26 345.45,260.87 346.33,261.49 347.22,262.1 348.1,262.7 348.97,263.28 349.83,263.84 350.69,264.4 351.56,264.97 352.46,265.57 353.4,266.2 354.29,266.79 355.1,267.3 355.94,267.83 356.91,268.49 358.13,269.38 359.7,270.6 361.65,272.18 363.91,274.05 366.41,276.15 369.09,278.41 371.91,280.79 374.8,283.2 377.83,285.71 381.05,288.39 384.41,291.16 387.83,293.99 391.25,296.82 394.6,299.6 398.04,302.43 401.63,305.38 405.23,308.33 408.67,311.16 411.78,313.75 414.4,316 416.52,317.91 418.27,319.59 419.69,321.02 420.83,322.24 421.75,323.23 422.5,324" fill="none" stroke="#ff0000" stroke-width="1.7" stroke-linejoin="round" />
<line x1="293.8" y1="246.1" x2="293.8" y2="247.6" stroke="#111" stroke-width="0.8" />
<line x1="293.8" y1="253" x2="293.8" y2="254.5" stroke="#111" stroke-width="0.8" />
<line x1="291.5" y1="246.1" x2="296.1" y2="246.1" stroke="#111" stroke-width="0.8" />
<line x1="291.5" y1="254.5" x2="296.1" y2="254.5" stroke="#111" stroke-width="0.8" />
<circle cx="293.8" cy="250.3" r="2.7" fill="none" stroke="#111" stroke-width="0.9"/>
<line x1="312.23" y1="244.4" x2="312.23" y2="246" stroke="#111" stroke-width="0.8" />
<line x1="312.23" y1="251.4" x2="312.23" y2="253" stroke="#111" stroke-width="0.8" />
<line x1="309.93" y1="244.4" x2="314.53" y2="244.4" stroke="#111" stroke-width="0.8" />
<line x1="309.93" y1="253" x2="314.53" y2="253" stroke="#111" stroke-width="0.8" />
<circle cx="312.23" cy="248.7" r="2.7" fill="none" stroke="#111" stroke-width="0.9"/>
<line x1="330.66" y1="252.6" x2="330.66" y2="253.9" stroke="#111" stroke-width="0.8" />
<line x1="330.66" y1="259.3" x2="330.66" y2="260.6" stroke="#111" stroke-width="0.8" />
<line x1="328.36" y1="252.6" x2="332.96" y2="252.6" stroke="#111" stroke-width="0.8" />
<line x1="328.36" y1="260.6" x2="332.96" y2="260.6" stroke="#111" stroke-width="0.8" />
<circle cx="330.66" cy="256.6" r="2.7" fill="none" stroke="#111" stroke-width="0.9"/>
<line x1="349.09" y1="255" x2="349.09" y2="256.4" stroke="#111" stroke-width="0.8" />
<line x1="349.09" y1="261.8" x2="349.09" y2="263.2" stroke="#111" stroke-width="0.8" />
<line x1="346.79" y1="255" x2="351.39" y2="255" stroke="#111" stroke-width="0.8" />
<line x1="346.79" y1="263.2" x2="351.39" y2="263.2" stroke="#111" stroke-width="0.8" />
<circle cx="349.09" cy="259.1" r="2.7" fill="none" stroke="#111" stroke-width="0.9"/>
<line x1="367.52" y1="269.5" x2="367.52" y2="270.8" stroke="#111" stroke-width="0.8" />
<line x1="367.52" y1="276.2" x2="367.52" y2="277.5" stroke="#111" stroke-width="0.8" />
<line x1="365.22" y1="269.5" x2="369.82" y2="269.5" stroke="#111" stroke-width="0.8" />
<line x1="365.22" y1="277.5" x2="369.82" y2="277.5" stroke="#111" stroke-width="0.8" />
<circle cx="367.52" cy="273.5" r="2.7" fill="none" stroke="#111" stroke-width="0.9"/>
<line x1="385.95" y1="285.9" x2="385.95" y2="287" stroke="#111" stroke-width="0.8" />
<line x1="385.95" y1="292.4" x2="385.95" y2="293.5" stroke="#111" stroke-width="0.8" />
<line x1="383.65" y1="285.9" x2="388.25" y2="285.9" stroke="#111" stroke-width="0.8" />
<line x1="383.65" y1="293.5" x2="388.25" y2="293.5" stroke="#111" stroke-width="0.8" />
<circle cx="385.95" cy="289.7" r="2.7" fill="none" stroke="#111" stroke-width="0.9"/>
<line x1="404.38" y1="302.4" x2="404.38" y2="303.7" stroke="#111" stroke-width="0.8" />
<line x1="404.38" y1="309.1" x2="404.38" y2="310.4" stroke="#111" stroke-width="0.8" />
<line x1="402.08" y1="302.4" x2="406.68" y2="302.4" stroke="#111" stroke-width="0.8" />
<line x1="402.08" y1="310.4" x2="406.68" y2="310.4" stroke="#111" stroke-width="0.8" />
<circle cx="404.38" cy="306.4" r="2.7" fill="none" stroke="#111" stroke-width="0.9"/>
<line x1="422.81" y1="323.4" x2="422.81" y2="324.5" stroke="#111" stroke-width="0.8" />
<line x1="422.81" y1="329.9" x2="422.81" y2="331" stroke="#111" stroke-width="0.8" />
<line x1="420.51" y1="323.4" x2="425.11" y2="323.4" stroke="#111" stroke-width="0.8" />
<line x1="420.51" y1="331" x2="425.11" y2="331" stroke="#111" stroke-width="0.8" />
<circle cx="422.81" cy="327.2" r="2.7" fill="none" stroke="#111" stroke-width="0.9"/>
<circle cx="295.3" cy="337.9" r="3.0" fill="#ff0000"/>
<circle cx="313" cy="333.2" r="3.0" fill="#ff0000"/>
<circle cx="331.1" cy="336.8" r="3.0" fill="#ff0000"/>
<circle cx="349" cy="329" r="3.0" fill="#ff0000"/>
<circle cx="366.9" cy="328.4" r="3.0" fill="#ff0000"/>
<circle cx="385" cy="330.6" r="3.0" fill="#ff0000"/>
<circle cx="403" cy="329.9" r="3.0" fill="#ff0000"/>
<circle cx="420.7" cy="316.6" r="3.0" fill="#ff0000"/>
<line x1="286.4" y1="210.4" x2="429.6" y2="210.4" stroke="#555" stroke-width="1" />
<line x1="286.4" y1="348.4" x2="429.6" y2="348.4" stroke="#222" stroke-width="1" />
<line x1="286.4" y1="210.4" x2="286.4" y2="348.4" stroke="#333" stroke-width="1" />
<line x1="429.6" y1="210.4" x2="429.6" y2="348.4" stroke="#ff0000" stroke-width="1" />
<line x1="293.8" y1="348.4" x2="293.8" y2="345.4" stroke="#222" stroke-width="1" />
<text x="293.8" y="362.1" font-size="9.4" text-anchor="middle" font-weight="normal" font-style="normal" fill="#111" font-family="Liberation Sans">0</text>
<line x1="312.23" y1="348.4" x2="312.23" y2="345.4" stroke="#222" stroke-width="1" />
<text x="312.23" y="362.1" font-size="9.4" text-anchor="middle" font-weight="normal" font-style="normal" fill="#111" font-family="Liberation Sans">10</text>
<line x1="330.66" y1="348.4" x2="330.66" y2="345.4" stroke="#222" stroke-width="1" />
<text x="330.66" y="362.1" font-size="9.4" text-anchor="middle" font-weight="normal" font-style="normal" fill="#111" font-family="Liberation Sans">20</text>
<line x1="349.09" y1="348.4" x2="349.09" y2="345.4" stroke="#222" stroke-width="1" />
<text x="349.09" y="362.1" font-size="9.4" text-anchor="middle" font-weight="normal" font-style="normal" fill="#111" font-family="Liberation Sans">30</text>
<line x1="367.52" y1="348.4" x2="367.52" y2="345.4" stroke="#222" stroke-width="1" />
<text x="367.52" y="362.1" font-size="9.4" text-anchor="middle" font-weight="normal" font-style="normal" fill="#111" font-family="Liberation Sans">40</text>
<line x1="385.95" y1="348.4" x2="385.95" y2="345.4" stroke="#222" stroke-width="1" />
<text x="385.95" y="362.1" font-size="9.4" text-anchor="middle" font-weight="normal" font-style="normal" fill="#111" font-family="Liberation Sans">50</text>
<line x1="404.38" y1="348.4" x2="404.38" y2="345.4" stroke="#222" stroke-width="1" />
<text x="404.38" y="362.1" font-size="9.4" text-anchor="middle" font-weight="normal" font-style="normal" fill="#111" font-family="Liberation Sans">60</text>
<line x1="422.81" y1="348.4" x2="422.81" y2="345.4" stroke="#222" stroke-width="1" />
<text x="422.81" y="362.1" font-size="9.4" text-anchor="middle" font-weight="normal" font-style="normal" fill="#111" font-family="Liberation Sans">70</text>
<line x1="286.4" y1="320.9" x2="289.4" y2="320.9" stroke="#222" stroke-width="1" />
<text x="284.8" y="323.4" font-size="9.4" text-anchor="end" font-weight="normal" font-style="normal" fill="#111" font-family="Liberation Sans">4.20</text>
<line x1="286.4" y1="265.6" x2="289.4" y2="265.6" stroke="#222" stroke-width="1" />
<text x="284.8" y="268.1" font-size="9.4" text-anchor="end" font-weight="normal" font-style="normal" fill="#111" font-family="Liberation Sans">4.21</text>
<line x1="286.4" y1="210.4" x2="289.4" y2="210.4" stroke="#222" stroke-width="1" />
<text x="284.8" y="212.9" font-size="9.4" text-anchor="end" font-weight="normal" font-style="normal" fill="#111" font-family="Liberation Sans">4.22</text>
<line x1="286.4" y1="293.3" x2="288" y2="293.3" stroke="#222" stroke-width="1" />
<line x1="286.4" y1="238" x2="288" y2="238" stroke="#222" stroke-width="1" />
<line x1="429.6" y1="338.1" x2="426.6" y2="338.1" stroke="#ff0000" stroke-width="1" />
<text x="434.2" y="341.4" font-size="9.4" text-anchor="start" font-weight="normal" font-style="normal" fill="#ff0000" font-family="Liberation Sans">1.000</text>
<line x1="429.6" y1="311.5" x2="426.6" y2="311.5" stroke="#ff0000" stroke-width="1" />
<text x="434.2" y="314.8" font-size="9.4" text-anchor="start" font-weight="normal" font-style="normal" fill="#ff0000" font-family="Liberation Sans">1.005</text>
<line x1="429.6" y1="284.9" x2="426.6" y2="284.9" stroke="#ff0000" stroke-width="1" />
<text x="434.2" y="288.2" font-size="9.4" text-anchor="start" font-weight="normal" font-style="normal" fill="#ff0000" font-family="Liberation Sans">1.010</text>
<line x1="429.6" y1="258.3" x2="426.6" y2="258.3" stroke="#ff0000" stroke-width="1" />
<text x="434.2" y="261.6" font-size="9.4" text-anchor="start" font-weight="normal" font-style="normal" fill="#ff0000" font-family="Liberation Sans">1.015</text>
<line x1="429.6" y1="231.7" x2="426.6" y2="231.7" stroke="#ff0000" stroke-width="1" />
<text x="434.2" y="235" font-size="9.4" text-anchor="start" font-weight="normal" font-style="normal" fill="#ff0000" font-family="Liberation Sans">1.020</text>
<line x1="429.6" y1="324.8" x2="428" y2="324.8" stroke="#ff0000" stroke-width="1" />
<line x1="429.6" y1="298.2" x2="428" y2="298.2" stroke="#ff0000" stroke-width="1" />
<line x1="429.6" y1="271.6" x2="428" y2="271.6" stroke="#ff0000" stroke-width="1" />
<line x1="429.6" y1="245" x2="428" y2="245" stroke="#ff0000" stroke-width="1" />
<line x1="429.6" y1="218.4" x2="428" y2="218.4" stroke="#ff0000" stroke-width="1" />
<text x="299.6" y="224" font-size="9.15" font-family="Liberation Sans" fill="#111">Fitted <tspan font-style="italic">H</tspan><tspan font-style="italic" font-size="6.8" dy="2.6">c</tspan></text>
<text x="299.6" y="238.1" font-size="9.15" text-anchor="start" font-weight="normal" font-style="normal" fill="#111" font-family="Liberation Sans">~ 66 ± 5 kOe</text>
<text x="259.4" y="276.2" font-size="9.4" text-anchor="middle" font-weight="normal" font-style="normal" fill="#111" font-family="Liberation Sans" transform="rotate(-90 259.4 276.2)">Peak position (eV)</text>
<text x="463" y="283.2" font-size="9.4" text-anchor="middle" font-weight="normal" font-style="normal" fill="#ff0000" font-family="Liberation Sans" transform="rotate(90 463 283.2)">Relative Intensity</text>
<text x="358.6" y="375.6" text-anchor="middle" font-size="9.4" font-family="Liberation Sans" fill="#111"><tspan font-style="italic">H</tspan> (kOe)</text>
<text x="244.6" y="199" font-size="9.6" text-anchor="start" font-weight="bold" font-style="normal" fill="#111" font-family="Liberation Sans">d</text>
<line x1="618.93" y1="24" x2="618.93" y2="163.8" stroke="#777" stroke-width="1.2" stroke-dasharray="3.2 2.4"/>
<polyline points="547.75,146.8 553.37,149 562.73,146.4 572.1,133.1 581.47,117.5 590.83,114.9 600.2,96.1 609.57,99.5 618.93,94 628.3,93 637.67,90.2 647.03,87.5 656.4,86 665.77,82.2 675.13,89.6" fill="none" stroke="#ff0000" stroke-width="0.9" stroke-linejoin="round" />
<line x1="547.75" y1="140.5" x2="547.75" y2="153.1" stroke="#ff0000" stroke-width="0.9" />
<line x1="545.55" y1="140.5" x2="549.95" y2="140.5" stroke="#ff0000" stroke-width="0.9" />
<line x1="545.55" y1="153.1" x2="549.95" y2="153.1" stroke="#ff0000" stroke-width="0.9" />
<path d="M547.75 149.8L550.9 144.4L544.6 144.4Z" fill="#ff0000"/>
<line x1="553.37" y1="142.7" x2="553.37" y2="155.3" stroke="#ff0000" stroke-width="0.9" />
<line x1="551.17" y1="142.7" x2="555.57" y2="142.7" stroke="#ff0000" stroke-width="0.9" />
<line x1="551.17" y1="155.3" x2="555.57" y2="155.3" stroke="#ff0000" stroke-width="0.9" />
<path d="M553.37 152L556.52 146.6L550.22 146.6Z" fill="#ff0000"/>
<line x1="562.73" y1="140.1" x2="562.73" y2="152.7" stroke="#ff0000" stroke-width="0.9" />
<line x1="560.53" y1="140.1" x2="564.93" y2="140.1" stroke="#ff0000" stroke-width="0.9" />
<line x1="560.53" y1="152.7" x2="564.93" y2="152.7" stroke="#ff0000" stroke-width="0.9" />
<path d="M562.73 149.4L565.88 144L559.58 144Z" fill="#ff0000"/>
<line x1="572.1" y1="126.8" x2="572.1" y2="139.4" stroke="#ff0000" stroke-width="0.9" />
<line x1="569.9" y1="126.8" x2="574.3" y2="126.8" stroke="#ff0000" stroke-width="0.9" />
<line x1="569.9" y1="139.4" x2="574.3" y2="139.4" stroke="#ff0000" stroke-width="0.9" />
<path d="M572.1 136.1L575.25 130.7L568.95 130.7Z" fill="#ff0000"/>
<line x1="581.47" y1="111.2" x2="581.47" y2="123.8" stroke="#ff0000" stroke-width="0.9" />
<line x1="579.27" y1="111.2" x2="583.67" y2="111.2" stroke="#ff0000" stroke-width="0.9" />
<line x1="579.27" y1="123.8" x2="583.67" y2="123.8" stroke="#ff0000" stroke-width="0.9" />
<path d="M581.47 120.5L584.62 115.1L578.32 115.1Z" fill="#ff0000"/>
<line x1="590.83" y1="108.6" x2="590.83" y2="121.2" stroke="#ff0000" stroke-width="0.9" />
<line x1="588.63" y1="108.6" x2="593.03" y2="108.6" stroke="#ff0000" stroke-width="0.9" />
<line x1="588.63" y1="121.2" x2="593.03" y2="121.2" stroke="#ff0000" stroke-width="0.9" />
<path d="M590.83 117.9L593.98 112.5L587.68 112.5Z" fill="#ff0000"/>
<line x1="600.2" y1="89.8" x2="600.2" y2="102.4" stroke="#ff0000" stroke-width="0.9" />
<line x1="598" y1="89.8" x2="602.4" y2="89.8" stroke="#ff0000" stroke-width="0.9" />
<line x1="598" y1="102.4" x2="602.4" y2="102.4" stroke="#ff0000" stroke-width="0.9" />
<path d="M600.2 99.1L603.35 93.7L597.05 93.7Z" fill="#ff0000"/>
<line x1="609.57" y1="93.2" x2="609.57" y2="105.8" stroke="#ff0000" stroke-width="0.9" />
<line x1="607.37" y1="93.2" x2="611.77" y2="93.2" stroke="#ff0000" stroke-width="0.9" />
<line x1="607.37" y1="105.8" x2="611.77" y2="105.8" stroke="#ff0000" stroke-width="0.9" />
<path d="M609.57 102.5L612.72 97.1L606.42 97.1Z" fill="#ff0000"/>
<line x1="618.93" y1="87.7" x2="618.93" y2="100.3" stroke="#ff0000" stroke-width="0.9" />
<line x1="616.73" y1="87.7" x2="621.13" y2="87.7" stroke="#ff0000" stroke-width="0.9" />
<line x1="616.73" y1="100.3" x2="621.13" y2="100.3" stroke="#ff0000" stroke-width="0.9" />
<path d="M618.93 97L622.08 91.6L615.78 91.6Z" fill="#ff0000"/>
<line x1="628.3" y1="86.7" x2="628.3" y2="99.3" stroke="#ff0000" stroke-width="0.9" />
<line x1="626.1" y1="86.7" x2="630.5" y2="86.7" stroke="#ff0000" stroke-width="0.9" />
<line x1="626.1" y1="99.3" x2="630.5" y2="99.3" stroke="#ff0000" stroke-width="0.9" />
<path d="M628.3 96L631.45 90.6L625.15 90.6Z" fill="#ff0000"/>
<line x1="637.67" y1="83.9" x2="637.67" y2="96.5" stroke="#ff0000" stroke-width="0.9" />
<line x1="635.47" y1="83.9" x2="639.87" y2="83.9" stroke="#ff0000" stroke-width="0.9" />
<line x1="635.47" y1="96.5" x2="639.87" y2="96.5" stroke="#ff0000" stroke-width="0.9" />
<path d="M637.67 93.2L640.82 87.8L634.52 87.8Z" fill="#ff0000"/>
<line x1="647.03" y1="81.2" x2="647.03" y2="93.8" stroke="#ff0000" stroke-width="0.9" />
<line x1="644.83" y1="81.2" x2="649.23" y2="81.2" stroke="#ff0000" stroke-width="0.9" />
<line x1="644.83" y1="93.8" x2="649.23" y2="93.8" stroke="#ff0000" stroke-width="0.9" />
<path d="M647.03 90.5L650.18 85.1L643.88 85.1Z" fill="#ff0000"/>
<line x1="656.4" y1="79.7" x2="656.4" y2="92.3" stroke="#ff0000" stroke-width="0.9" />
<line x1="654.2" y1="79.7" x2="658.6" y2="79.7" stroke="#ff0000" stroke-width="0.9" />
<line x1="654.2" y1="92.3" x2="658.6" y2="92.3" stroke="#ff0000" stroke-width="0.9" />
<path d="M656.4 89L659.55 83.6L653.25 83.6Z" fill="#ff0000"/>
<line x1="665.77" y1="75.9" x2="665.77" y2="88.5" stroke="#ff0000" stroke-width="0.9" />
<line x1="663.57" y1="75.9" x2="667.97" y2="75.9" stroke="#ff0000" stroke-width="0.9" />
<line x1="663.57" y1="88.5" x2="667.97" y2="88.5" stroke="#ff0000" stroke-width="0.9" />
<path d="M665.77 85.2L668.92 79.8L662.62 79.8Z" fill="#ff0000"/>
<line x1="675.13" y1="83.3" x2="675.13" y2="95.9" stroke="#ff0000" stroke-width="0.9" />
<line x1="672.93" y1="83.3" x2="677.33" y2="83.3" stroke="#ff0000" stroke-width="0.9" />
<line x1="672.93" y1="95.9" x2="677.33" y2="95.9" stroke="#ff0000" stroke-width="0.9" />
<path d="M675.13 92.6L678.28 87.2L671.98 87.2Z" fill="#ff0000"/>
<polyline points="547.75,69.6 553.37,74.2 562.73,81.7 572.1,82.5 581.47,80 590.83,75.7 600.2,77.4 609.57,74.3 618.93,72.1 628.3,72.7 637.67,74.8 647.03,79 656.4,82.2 665.77,81.1 675.13,78.6" fill="none" stroke="#0a8a0a" stroke-width="0.9" stroke-linejoin="round" />
<line x1="547.75" y1="63.3" x2="547.75" y2="75.9" stroke="#0a8a0a" stroke-width="0.9" />
<line x1="545.55" y1="63.3" x2="549.95" y2="63.3" stroke="#0a8a0a" stroke-width="0.9" />
<line x1="545.55" y1="75.9" x2="549.95" y2="75.9" stroke="#0a8a0a" stroke-width="0.9" />
<path d="M547.75 66.6L550.9 72L544.6 72Z" fill="#0a8a0a"/>
<line x1="553.37" y1="67.9" x2="553.37" y2="80.5" stroke="#0a8a0a" stroke-width="0.9" />
<line x1="551.17" y1="67.9" x2="555.57" y2="67.9" stroke="#0a8a0a" stroke-width="0.9" />
<line x1="551.17" y1="80.5" x2="555.57" y2="80.5" stroke="#0a8a0a" stroke-width="0.9" />
<path d="M553.37 71.2L556.52 76.6L550.22 76.6Z" fill="#0a8a0a"/>
<line x1="562.73" y1="75.4" x2="562.73" y2="88" stroke="#0a8a0a" stroke-width="0.9" />
<line x1="560.53" y1="75.4" x2="564.93" y2="75.4" stroke="#0a8a0a" stroke-width="0.9" />
<line x1="560.53" y1="88" x2="564.93" y2="88" stroke="#0a8a0a" stroke-width="0.9" />
<path d="M562.73 78.7L565.88 84.1L559.58 84.1Z" fill="#0a8a0a"/>
<line x1="572.1" y1="76.2" x2="572.1" y2="88.8" stroke="#0a8a0a" stroke-width="0.9" />
<line x1="569.9" y1="76.2" x2="574.3" y2="76.2" stroke="#0a8a0a" stroke-width="0.9" />
<line x1="569.9" y1="88.8" x2="574.3" y2="88.8" stroke="#0a8a0a" stroke-width="0.9" />
<path d="M572.1 79.5L575.25 84.9L568.95 84.9Z" fill="#0a8a0a"/>
<line x1="581.47" y1="73.7" x2="581.47" y2="86.3" stroke="#0a8a0a" stroke-width="0.9" />
<line x1="579.27" y1="73.7" x2="583.67" y2="73.7" stroke="#0a8a0a" stroke-width="0.9" />
<line x1="579.27" y1="86.3" x2="583.67" y2="86.3" stroke="#0a8a0a" stroke-width="0.9" />
<path d="M581.47 77L584.62 82.4L578.32 82.4Z" fill="#0a8a0a"/>
<line x1="590.83" y1="69.4" x2="590.83" y2="82" stroke="#0a8a0a" stroke-width="0.9" />
<line x1="588.63" y1="69.4" x2="593.03" y2="69.4" stroke="#0a8a0a" stroke-width="0.9" />
<line x1="588.63" y1="82" x2="593.03" y2="82" stroke="#0a8a0a" stroke-width="0.9" />
<path d="M590.83 72.7L593.98 78.1L587.68 78.1Z" fill="#0a8a0a"/>
<line x1="600.2" y1="71.1" x2="600.2" y2="83.7" stroke="#0a8a0a" stroke-width="0.9" />
<line x1="598" y1="71.1" x2="602.4" y2="71.1" stroke="#0a8a0a" stroke-width="0.9" />
<line x1="598" y1="83.7" x2="602.4" y2="83.7" stroke="#0a8a0a" stroke-width="0.9" />
<path d="M600.2 74.4L603.35 79.8L597.05 79.8Z" fill="#0a8a0a"/>
<line x1="609.57" y1="68" x2="609.57" y2="80.6" stroke="#0a8a0a" stroke-width="0.9" />
<line x1="607.37" y1="68" x2="611.77" y2="68" stroke="#0a8a0a" stroke-width="0.9" />
<line x1="607.37" y1="80.6" x2="611.77" y2="80.6" stroke="#0a8a0a" stroke-width="0.9" />
<path d="M609.57 71.3L612.72 76.7L606.42 76.7Z" fill="#0a8a0a"/>
<line x1="618.93" y1="65.8" x2="618.93" y2="78.4" stroke="#0a8a0a" stroke-width="0.9" />
<line x1="616.73" y1="65.8" x2="621.13" y2="65.8" stroke="#0a8a0a" stroke-width="0.9" />
<line x1="616.73" y1="78.4" x2="621.13" y2="78.4" stroke="#0a8a0a" stroke-width="0.9" />
<path d="M618.93 69.1L622.08 74.5L615.78 74.5Z" fill="#0a8a0a"/>
<line x1="628.3" y1="66.4" x2="628.3" y2="79" stroke="#0a8a0a" stroke-width="0.9" />
<line x1="626.1" y1="66.4" x2="630.5" y2="66.4" stroke="#0a8a0a" stroke-width="0.9" />
<line x1="626.1" y1="79" x2="630.5" y2="79" stroke="#0a8a0a" stroke-width="0.9" />
<path d="M628.3 69.7L631.45 75.1L625.15 75.1Z" fill="#0a8a0a"/>
<line x1="637.67" y1="68.5" x2="637.67" y2="81.1" stroke="#0a8a0a" stroke-width="0.9" />
<line x1="635.47" y1="68.5" x2="639.87" y2="68.5" stroke="#0a8a0a" stroke-width="0.9" />
<line x1="635.47" y1="81.1" x2="639.87" y2="81.1" stroke="#0a8a0a" stroke-width="0.9" />
<path d="M637.67 71.8L640.82 77.2L634.52 77.2Z" fill="#0a8a0a"/>
<line x1="647.03" y1="72.7" x2="647.03" y2="85.3" stroke="#0a8a0a" stroke-width="0.9" />
<line x1="644.83" y1="72.7" x2="649.23" y2="72.7" stroke="#0a8a0a" stroke-width="0.9" />
<line x1="644.83" y1="85.3" x2="649.23" y2="85.3" stroke="#0a8a0a" stroke-width="0.9" />
<path d="M647.03 76L650.18 81.4L643.88 81.4Z" fill="#0a8a0a"/>
<line x1="656.4" y1="75.9" x2="656.4" y2="88.5" stroke="#0a8a0a" stroke-width="0.9" />
<line x1="654.2" y1="75.9" x2="658.6" y2="75.9" stroke="#0a8a0a" stroke-width="0.9" />
<line x1="654.2" y1="88.5" x2="658.6" y2="88.5" stroke="#0a8a0a" stroke-width="0.9" />
<path d="M656.4 79.2L659.55 84.6L653.25 84.6Z" fill="#0a8a0a"/>
<line x1="665.77" y1="74.8" x2="665.77" y2="87.4" stroke="#0a8a0a" stroke-width="0.9" />
<line x1="663.57" y1="74.8" x2="667.97" y2="74.8" stroke="#0a8a0a" stroke-width="0.9" />
<line x1="663.57" y1="87.4" x2="667.97" y2="87.4" stroke="#0a8a0a" stroke-width="0.9" />
<path d="M665.77 78.1L668.92 83.5L662.62 83.5Z" fill="#0a8a0a"/>
<line x1="675.13" y1="72.3" x2="675.13" y2="84.9" stroke="#0a8a0a" stroke-width="0.9" />
<line x1="672.93" y1="72.3" x2="677.33" y2="72.3" stroke="#0a8a0a" stroke-width="0.9" />
<line x1="672.93" y1="84.9" x2="677.33" y2="84.9" stroke="#0a8a0a" stroke-width="0.9" />
<path d="M675.13 75.6L678.28 81L671.98 81Z" fill="#0a8a0a"/>
<polyline points="547.75,37.2 553.37,40.8 562.73,47.2 572.1,56 581.47,56.8 590.83,58.4 600.2,61 609.57,66.1 618.93,68.5 628.3,70.6 637.67,72.1 647.03,69.5 656.4,70.6 665.77,69.5 675.13,72.7" fill="none" stroke="#0000ff" stroke-width="0.9" stroke-linejoin="round" />
<line x1="547.75" y1="30.9" x2="547.75" y2="43.5" stroke="#0000ff" stroke-width="0.9" />
<line x1="545.55" y1="30.9" x2="549.95" y2="30.9" stroke="#0000ff" stroke-width="0.9" />
<line x1="545.55" y1="43.5" x2="549.95" y2="43.5" stroke="#0000ff" stroke-width="0.9" />
<circle cx="547.75" cy="37.2" r="2.4" fill="#0000ff"/>
<line x1="553.37" y1="34.5" x2="553.37" y2="47.1" stroke="#0000ff" stroke-width="0.9" />
<line x1="551.17" y1="34.5" x2="555.57" y2="34.5" stroke="#0000ff" stroke-width="0.9" />
<line x1="551.17" y1="47.1" x2="555.57" y2="47.1" stroke="#0000ff" stroke-width="0.9" />
<circle cx="553.37" cy="40.8" r="2.4" fill="#0000ff"/>
<line x1="562.73" y1="40.9" x2="562.73" y2="53.5" stroke="#0000ff" stroke-width="0.9" />
<line x1="560.53" y1="40.9" x2="564.93" y2="40.9" stroke="#0000ff" stroke-width="0.9" />
<line x1="560.53" y1="53.5" x2="564.93" y2="53.5" stroke="#0000ff" stroke-width="0.9" />
<circle cx="562.73" cy="47.2" r="2.4" fill="#0000ff"/>
<line x1="572.1" y1="49.7" x2="572.1" y2="62.3" stroke="#0000ff" stroke-width="0.9" />
<line x1="569.9" y1="49.7" x2="574.3" y2="49.7" stroke="#0000ff" stroke-width="0.9" />
<line x1="569.9" y1="62.3" x2="574.3" y2="62.3" stroke="#0000ff" stroke-width="0.9" />
<circle cx="572.1" cy="56" r="2.4" fill="#0000ff"/>
<line x1="581.47" y1="50.5" x2="581.47" y2="63.1" stroke="#0000ff" stroke-width="0.9" />
<line x1="579.27" y1="50.5" x2="583.67" y2="50.5" stroke="#0000ff" stroke-width="0.9" />
<line x1="579.27" y1="63.1" x2="583.67" y2="63.1" stroke="#0000ff" stroke-width="0.9" />
<circle cx="581.47" cy="56.8" r="2.4" fill="#0000ff"/>
<line x1="590.83" y1="52.1" x2="590.83" y2="64.7" stroke="#0000ff" stroke-width="0.9" />
<line x1="588.63" y1="52.1" x2="593.03" y2="52.1" stroke="#0000ff" stroke-width="0.9" />
<line x1="588.63" y1="64.7" x2="593.03" y2="64.7" stroke="#0000ff" stroke-width="0.9" />
<circle cx="590.83" cy="58.4" r="2.4" fill="#0000ff"/>
<line x1="600.2" y1="54.7" x2="600.2" y2="67.3" stroke="#0000ff" stroke-width="0.9" />
<line x1="598" y1="54.7" x2="602.4" y2="54.7" stroke="#0000ff" stroke-width="0.9" />
<line x1="598" y1="67.3" x2="602.4" y2="67.3" stroke="#0000ff" stroke-width="0.9" />
<circle cx="600.2" cy="61" r="2.4" fill="#0000ff"/>
<line x1="609.57" y1="59.8" x2="609.57" y2="72.4" stroke="#0000ff" stroke-width="0.9" />
<line x1="607.37" y1="59.8" x2="611.77" y2="59.8" stroke="#0000ff" stroke-width="0.9" />
<line x1="607.37" y1="72.4" x2="611.77" y2="72.4" stroke="#0000ff" stroke-width="0.9" />
<circle cx="609.57" cy="66.1" r="2.4" fill="#0000ff"/>
<line x1="618.93" y1="62.2" x2="618.93" y2="74.8" stroke="#0000ff" stroke-width="0.9" />
<line x1="616.73" y1="62.2" x2="621.13" y2="62.2" stroke="#0000ff" stroke-width="0.9" />
<line x1="616.73" y1="74.8" x2="621.13" y2="74.8" stroke="#0000ff" stroke-width="0.9" />
<circle cx="618.93" cy="68.5" r="2.4" fill="#0000ff"/>
<line x1="628.3" y1="64.3" x2="628.3" y2="76.9" stroke="#0000ff" stroke-width="0.9" />
<line x1="626.1" y1="64.3" x2="630.5" y2="64.3" stroke="#0000ff" stroke-width="0.9" />
<line x1="626.1" y1="76.9" x2="630.5" y2="76.9" stroke="#0000ff" stroke-width="0.9" />
<circle cx="628.3" cy="70.6" r="2.4" fill="#0000ff"/>
<line x1="637.67" y1="65.8" x2="637.67" y2="78.4" stroke="#0000ff" stroke-width="0.9" />
<line x1="635.47" y1="65.8" x2="639.87" y2="65.8" stroke="#0000ff" stroke-width="0.9" />
<line x1="635.47" y1="78.4" x2="639.87" y2="78.4" stroke="#0000ff" stroke-width="0.9" />
<circle cx="637.67" cy="72.1" r="2.4" fill="#0000ff"/>
<line x1="647.03" y1="63.2" x2="647.03" y2="75.8" stroke="#0000ff" stroke-width="0.9" />
<line x1="644.83" y1="63.2" x2="649.23" y2="63.2" stroke="#0000ff" stroke-width="0.9" />
<line x1="644.83" y1="75.8" x2="649.23" y2="75.8" stroke="#0000ff" stroke-width="0.9" />
<circle cx="647.03" cy="69.5" r="2.4" fill="#0000ff"/>
<line x1="656.4" y1="64.3" x2="656.4" y2="76.9" stroke="#0000ff" stroke-width="0.9" />
<line x1="654.2" y1="64.3" x2="658.6" y2="64.3" stroke="#0000ff" stroke-width="0.9" />
<line x1="654.2" y1="76.9" x2="658.6" y2="76.9" stroke="#0000ff" stroke-width="0.9" />
<circle cx="656.4" cy="70.6" r="2.4" fill="#0000ff"/>
<line x1="665.77" y1="63.2" x2="665.77" y2="75.8" stroke="#0000ff" stroke-width="0.9" />
<line x1="663.57" y1="63.2" x2="667.97" y2="63.2" stroke="#0000ff" stroke-width="0.9" />
<line x1="663.57" y1="75.8" x2="667.97" y2="75.8" stroke="#0000ff" stroke-width="0.9" />
<circle cx="665.77" cy="69.5" r="2.4" fill="#0000ff"/>
<line x1="675.13" y1="66.4" x2="675.13" y2="79" stroke="#0000ff" stroke-width="0.9" />
<line x1="672.93" y1="66.4" x2="677.33" y2="66.4" stroke="#0000ff" stroke-width="0.9" />
<line x1="672.93" y1="79" x2="677.33" y2="79" stroke="#0000ff" stroke-width="0.9" />
<circle cx="675.13" cy="72.7" r="2.4" fill="#0000ff"/>
<line x1="534.6" y1="23.5" x2="684.5" y2="23.5" stroke="#222" stroke-width="1" />
<line x1="534.6" y1="163.8" x2="684.5" y2="163.8" stroke="#222" stroke-width="1" />
<line x1="534.6" y1="23.5" x2="534.6" y2="163.8" stroke="#222" stroke-width="1" />
<line x1="684.5" y1="23.5" x2="684.5" y2="163.8" stroke="#222" stroke-width="1" />
<line x1="544" y1="163.8" x2="544" y2="160.8" stroke="#222" stroke-width="1.2" />
<text x="544" y="175.6" font-size="9.4" text-anchor="middle" font-weight="normal" font-style="normal" fill="#111" font-family="Liberation Sans">0</text>
<line x1="581.47" y1="163.8" x2="581.47" y2="160.8" stroke="#222" stroke-width="1.2" />
<text x="581.47" y="175.6" font-size="9.4" text-anchor="middle" font-weight="normal" font-style="normal" fill="#111" font-family="Liberation Sans">20</text>
<line x1="618.93" y1="163.8" x2="618.93" y2="160.8" stroke="#222" stroke-width="1.2" />
<text x="618.93" y="175.6" font-size="9.4" text-anchor="middle" font-weight="normal" font-style="normal" fill="#111" font-family="Liberation Sans">40</text>
<line x1="656.4" y1="163.8" x2="656.4" y2="160.8" stroke="#222" stroke-width="1.2" />
<text x="656.4" y="175.6" font-size="9.4" text-anchor="middle" font-weight="normal" font-style="normal" fill="#111" font-family="Liberation Sans">60</text>
<line x1="562.73" y1="163.8" x2="562.73" y2="162.3" stroke="#222" stroke-width="1" />
<line x1="600.2" y1="163.8" x2="600.2" y2="162.3" stroke="#222" stroke-width="1" />
<line x1="637.67" y1="163.8" x2="637.67" y2="162.3" stroke="#222" stroke-width="1" />
<line x1="675.13" y1="163.8" x2="675.13" y2="162.3" stroke="#222" stroke-width="1" />
<line x1="534.6" y1="148.7" x2="537.6" y2="148.7" stroke="#222" stroke-width="1.2" />
<text x="531.2" y="152" font-size="9.4" text-anchor="end" font-weight="normal" font-style="normal" fill="#111" font-family="Liberation Sans">4.195</text>
<line x1="534.6" y1="117.4" x2="537.6" y2="117.4" stroke="#222" stroke-width="1.2" />
<text x="531.2" y="120.7" font-size="9.4" text-anchor="end" font-weight="normal" font-style="normal" fill="#111" font-family="Liberation Sans">4.200</text>
<line x1="534.6" y1="86.1" x2="537.6" y2="86.1" stroke="#222" stroke-width="1.2" />
<text x="531.2" y="89.4" font-size="9.4" text-anchor="end" font-weight="normal" font-style="normal" fill="#111" font-family="Liberation Sans">4.205</text>
<line x1="534.6" y1="54.8" x2="537.6" y2="54.8" stroke="#222" stroke-width="1.2" />
<text x="531.2" y="58.1" font-size="9.4" text-anchor="end" font-weight="normal" font-style="normal" fill="#111" font-family="Liberation Sans">4.210</text>
<line x1="534.6" y1="23.5" x2="537.6" y2="23.5" stroke="#222" stroke-width="1.2" />
<text x="531.2" y="26.8" font-size="9.4" text-anchor="end" font-weight="normal" font-style="normal" fill="#111" font-family="Liberation Sans">4.215</text>
<line x1="534.6" y1="133.05" x2="536.1" y2="133.05" stroke="#222" stroke-width="1" />
<line x1="534.6" y1="101.75" x2="536.1" y2="101.75" stroke="#222" stroke-width="1" />
<line x1="534.6" y1="70.45" x2="536.1" y2="70.45" stroke="#222" stroke-width="1" />
<line x1="534.6" y1="39.15" x2="536.1" y2="39.15" stroke="#222" stroke-width="1" />
<line x1="534.6" y1="164.29" x2="536.1" y2="164.29" stroke="#222" stroke-width="1" />
<text x="501.6" y="89" font-size="9.4" text-anchor="middle" font-weight="normal" font-style="normal" fill="#111" font-family="Liberation Sans" transform="rotate(-90 501.6 89)">Peak position (eV)</text>
<text x="609.9" y="188.2" text-anchor="middle" font-size="9.4" font-family="Liberation Sans" fill="#111"><tspan font-style="italic">T</tspan> (K)</text>
<text x="623.4" y="48.0" font-size="9.4" font-family="Liberation Sans" fill="#111" font-style="italic">T<tspan font-size="6.8" dy="2.2">H</tspan></text>
<text x="477.5" y="6.9" font-size="9.6" text-anchor="start" font-weight="bold" font-style="normal" fill="#111" font-family="Liberation Sans">e</text>
<line x1="624.1" y1="129.7" x2="634.9" y2="129.7" stroke="#0000ff" stroke-width="0.9" />
<circle cx="629.6" cy="129.7" r="2.3" fill="#0000ff"/>
<text x="640" y="132.9" font-size="9.2" text-anchor="start" font-weight="normal" font-style="normal" fill="#111" font-family="Liberation Sans">0</text>
<text x="652.8" y="132.9" font-size="9.2" text-anchor="start" font-weight="normal" font-style="normal" fill="#111" font-family="Liberation Sans">kOe</text>
<line x1="624.1" y1="140.4" x2="634.9" y2="140.4" stroke="#0a8a0a" stroke-width="0.9" />
<path d="M629.6 137.4L632.75 142.8L626.45 142.8Z" fill="#0a8a0a"/>
<text x="640" y="143.6" font-size="9.2" text-anchor="start" font-weight="normal" font-style="normal" fill="#111" font-family="Liberation Sans">40</text>
<text x="652.8" y="143.6" font-size="9.2" text-anchor="start" font-weight="normal" font-style="normal" fill="#111" font-family="Liberation Sans">kOe</text>
<line x1="624.1" y1="151.3" x2="634.9" y2="151.3" stroke="#ff0000" stroke-width="0.9" />
<path d="M629.6 154.3L632.75 148.9L626.45 148.9Z" fill="#ff0000"/>
<text x="640" y="154.5" font-size="9.2" text-anchor="start" font-weight="normal" font-style="normal" fill="#111" font-family="Liberation Sans">70</text>
<text x="652.8" y="154.5" font-size="9.2" text-anchor="start" font-weight="normal" font-style="normal" fill="#111" font-family="Liberation Sans">kOe</text>
<line x1="628.12" y1="209.8" x2="628.12" y2="349.2" stroke="#777" stroke-width="1.2" stroke-dasharray="3.2 2.4"/>
<polyline points="543.75,232.7 562.5,240.6 581.25,241.4 600,247.7 618.75,260.4 637.5,280.9 656.25,300.5 675,320.7" fill="none" stroke="#8000ff" stroke-width="0.9" stroke-linejoin="round" />
<line x1="543.75" y1="226.9" x2="543.75" y2="238.5" stroke="#8000ff" stroke-width="0.9" />
<line x1="541.55" y1="226.9" x2="545.95" y2="226.9" stroke="#8000ff" stroke-width="0.9" />
<line x1="541.55" y1="238.5" x2="545.95" y2="238.5" stroke="#8000ff" stroke-width="0.9" />
<circle cx="543.75" cy="232.7" r="2.4" fill="#8000ff"/>
<line x1="562.5" y1="234.8" x2="562.5" y2="246.4" stroke="#8000ff" stroke-width="0.9" />
<line x1="560.3" y1="234.8" x2="564.7" y2="234.8" stroke="#8000ff" stroke-width="0.9" />
<line x1="560.3" y1="246.4" x2="564.7" y2="246.4" stroke="#8000ff" stroke-width="0.9" />
<circle cx="562.5" cy="240.6" r="2.4" fill="#8000ff"/>
<line x1="581.25" y1="235.6" x2="581.25" y2="247.2" stroke="#8000ff" stroke-width="0.9" />
<line x1="579.05" y1="235.6" x2="583.45" y2="235.6" stroke="#8000ff" stroke-width="0.9" />
<line x1="579.05" y1="247.2" x2="583.45" y2="247.2" stroke="#8000ff" stroke-width="0.9" />
<circle cx="581.25" cy="241.4" r="2.4" fill="#8000ff"/>
<line x1="600" y1="241.9" x2="600" y2="253.5" stroke="#8000ff" stroke-width="0.9" />
<line x1="597.8" y1="241.9" x2="602.2" y2="241.9" stroke="#8000ff" stroke-width="0.9" />
<line x1="597.8" y1="253.5" x2="602.2" y2="253.5" stroke="#8000ff" stroke-width="0.9" />
<circle cx="600" cy="247.7" r="2.4" fill="#8000ff"/>
<line x1="618.75" y1="254.6" x2="618.75" y2="266.2" stroke="#8000ff" stroke-width="0.9" />
<line x1="616.55" y1="254.6" x2="620.95" y2="254.6" stroke="#8000ff" stroke-width="0.9" />
<line x1="616.55" y1="266.2" x2="620.95" y2="266.2" stroke="#8000ff" stroke-width="0.9" />
<circle cx="618.75" cy="260.4" r="2.4" fill="#8000ff"/>
<line x1="637.5" y1="275.1" x2="637.5" y2="286.7" stroke="#8000ff" stroke-width="0.9" />
<line x1="635.3" y1="275.1" x2="639.7" y2="275.1" stroke="#8000ff" stroke-width="0.9" />
<line x1="635.3" y1="286.7" x2="639.7" y2="286.7" stroke="#8000ff" stroke-width="0.9" />
<circle cx="637.5" cy="280.9" r="2.4" fill="#8000ff"/>
<line x1="656.25" y1="294.7" x2="656.25" y2="306.3" stroke="#8000ff" stroke-width="0.9" />
<line x1="654.05" y1="294.7" x2="658.45" y2="294.7" stroke="#8000ff" stroke-width="0.9" />
<line x1="654.05" y1="306.3" x2="658.45" y2="306.3" stroke="#8000ff" stroke-width="0.9" />
<circle cx="656.25" cy="300.5" r="2.4" fill="#8000ff"/>
<line x1="675" y1="314.9" x2="675" y2="326.5" stroke="#8000ff" stroke-width="0.9" />
<line x1="672.8" y1="314.9" x2="677.2" y2="314.9" stroke="#8000ff" stroke-width="0.9" />
<line x1="672.8" y1="326.5" x2="677.2" y2="326.5" stroke="#8000ff" stroke-width="0.9" />
<circle cx="675" cy="320.7" r="2.4" fill="#8000ff"/>
<polyline points="543.75,243.5 562.5,242.2 581.25,243 600,248.5 618.75,265 637.5,276.1 656.25,290.1 675,301.5" fill="none" stroke="#0000ff" stroke-width="0.9" stroke-linejoin="round" />
<line x1="543.75" y1="237.7" x2="543.75" y2="249.3" stroke="#0000ff" stroke-width="0.9" />
<line x1="541.55" y1="237.7" x2="545.95" y2="237.7" stroke="#0000ff" stroke-width="0.9" />
<line x1="541.55" y1="249.3" x2="545.95" y2="249.3" stroke="#0000ff" stroke-width="0.9" />
<path d="M543.75 240.5L546.9 245.9L540.6 245.9Z" fill="#0000ff"/>
<line x1="562.5" y1="236.4" x2="562.5" y2="248" stroke="#0000ff" stroke-width="0.9" />
<line x1="560.3" y1="236.4" x2="564.7" y2="236.4" stroke="#0000ff" stroke-width="0.9" />
<line x1="560.3" y1="248" x2="564.7" y2="248" stroke="#0000ff" stroke-width="0.9" />
<path d="M562.5 239.2L565.65 244.6L559.35 244.6Z" fill="#0000ff"/>
<line x1="581.25" y1="237.2" x2="581.25" y2="248.8" stroke="#0000ff" stroke-width="0.9" />
<line x1="579.05" y1="237.2" x2="583.45" y2="237.2" stroke="#0000ff" stroke-width="0.9" />
<line x1="579.05" y1="248.8" x2="583.45" y2="248.8" stroke="#0000ff" stroke-width="0.9" />
<path d="M581.25 240L584.4 245.4L578.1 245.4Z" fill="#0000ff"/>
<line x1="600" y1="242.7" x2="600" y2="254.3" stroke="#0000ff" stroke-width="0.9" />
<line x1="597.8" y1="242.7" x2="602.2" y2="242.7" stroke="#0000ff" stroke-width="0.9" />
<line x1="597.8" y1="254.3" x2="602.2" y2="254.3" stroke="#0000ff" stroke-width="0.9" />
<path d="M600 245.5L603.15 250.9L596.85 250.9Z" fill="#0000ff"/>
<line x1="618.75" y1="259.2" x2="618.75" y2="270.8" stroke="#0000ff" stroke-width="0.9" />
<line x1="616.55" y1="259.2" x2="620.95" y2="259.2" stroke="#0000ff" stroke-width="0.9" />
<line x1="616.55" y1="270.8" x2="620.95" y2="270.8" stroke="#0000ff" stroke-width="0.9" />
<path d="M618.75 262L621.9 267.4L615.6 267.4Z" fill="#0000ff"/>
<line x1="637.5" y1="270.3" x2="637.5" y2="281.9" stroke="#0000ff" stroke-width="0.9" />
<line x1="635.3" y1="270.3" x2="639.7" y2="270.3" stroke="#0000ff" stroke-width="0.9" />
<line x1="635.3" y1="281.9" x2="639.7" y2="281.9" stroke="#0000ff" stroke-width="0.9" />
<path d="M637.5 273.1L640.65 278.5L634.35 278.5Z" fill="#0000ff"/>
<line x1="656.25" y1="284.3" x2="656.25" y2="295.9" stroke="#0000ff" stroke-width="0.9" />
<line x1="654.05" y1="284.3" x2="658.45" y2="284.3" stroke="#0000ff" stroke-width="0.9" />
<line x1="654.05" y1="295.9" x2="658.45" y2="295.9" stroke="#0000ff" stroke-width="0.9" />
<path d="M656.25 287.1L659.4 292.5L653.1 292.5Z" fill="#0000ff"/>
<line x1="675" y1="295.7" x2="675" y2="307.3" stroke="#0000ff" stroke-width="0.9" />
<line x1="672.8" y1="295.7" x2="677.2" y2="295.7" stroke="#0000ff" stroke-width="0.9" />
<line x1="672.8" y1="307.3" x2="677.2" y2="307.3" stroke="#0000ff" stroke-width="0.9" />
<path d="M675 298.5L678.15 303.9L671.85 303.9Z" fill="#0000ff"/>
<polyline points="543.75,246.1 562.5,244.6 581.25,251.4 600,250.9 618.75,261 637.5,265.2 656.25,279.5 675,287.5" fill="none" stroke="#0a8a0a" stroke-width="0.9" stroke-linejoin="round" />
<line x1="543.75" y1="240.3" x2="543.75" y2="251.9" stroke="#0a8a0a" stroke-width="0.9" />
<line x1="541.55" y1="240.3" x2="545.95" y2="240.3" stroke="#0a8a0a" stroke-width="0.9" />
<line x1="541.55" y1="251.9" x2="545.95" y2="251.9" stroke="#0a8a0a" stroke-width="0.9" />
<path d="M543.75 249.1L546.9 243.7L540.6 243.7Z" fill="#0a8a0a"/>
<line x1="562.5" y1="238.8" x2="562.5" y2="250.4" stroke="#0a8a0a" stroke-width="0.9" />
<line x1="560.3" y1="238.8" x2="564.7" y2="238.8" stroke="#0a8a0a" stroke-width="0.9" />
<line x1="560.3" y1="250.4" x2="564.7" y2="250.4" stroke="#0a8a0a" stroke-width="0.9" />
<path d="M562.5 247.6L565.65 242.2L559.35 242.2Z" fill="#0a8a0a"/>
<line x1="581.25" y1="245.6" x2="581.25" y2="257.2" stroke="#0a8a0a" stroke-width="0.9" />
<line x1="579.05" y1="245.6" x2="583.45" y2="245.6" stroke="#0a8a0a" stroke-width="0.9" />
<line x1="579.05" y1="257.2" x2="583.45" y2="257.2" stroke="#0a8a0a" stroke-width="0.9" />
<path d="M581.25 254.4L584.4 249L578.1 249Z" fill="#0a8a0a"/>
<line x1="600" y1="245.1" x2="600" y2="256.7" stroke="#0a8a0a" stroke-width="0.9" />
<line x1="597.8" y1="245.1" x2="602.2" y2="245.1" stroke="#0a8a0a" stroke-width="0.9" />
<line x1="597.8" y1="256.7" x2="602.2" y2="256.7" stroke="#0a8a0a" stroke-width="0.9" />
<path d="M600 253.9L603.15 248.5L596.85 248.5Z" fill="#0a8a0a"/>
<line x1="618.75" y1="255.2" x2="618.75" y2="266.8" stroke="#0a8a0a" stroke-width="0.9" />
<line x1="616.55" y1="255.2" x2="620.95" y2="255.2" stroke="#0a8a0a" stroke-width="0.9" />
<line x1="616.55" y1="266.8" x2="620.95" y2="266.8" stroke="#0a8a0a" stroke-width="0.9" />
<path d="M618.75 264L621.9 258.6L615.6 258.6Z" fill="#0a8a0a"/>
<line x1="637.5" y1="259.4" x2="637.5" y2="271" stroke="#0a8a0a" stroke-width="0.9" />
<line x1="635.3" y1="259.4" x2="639.7" y2="259.4" stroke="#0a8a0a" stroke-width="0.9" />
<line x1="635.3" y1="271" x2="639.7" y2="271" stroke="#0a8a0a" stroke-width="0.9" />
<path d="M637.5 268.2L640.65 262.8L634.35 262.8Z" fill="#0a8a0a"/>
<line x1="656.25" y1="273.7" x2="656.25" y2="285.3" stroke="#0a8a0a" stroke-width="0.9" />
<line x1="654.05" y1="273.7" x2="658.45" y2="273.7" stroke="#0a8a0a" stroke-width="0.9" />
<line x1="654.05" y1="285.3" x2="658.45" y2="285.3" stroke="#0a8a0a" stroke-width="0.9" />
<path d="M656.25 282.5L659.4 277.1L653.1 277.1Z" fill="#0a8a0a"/>
<line x1="675" y1="281.7" x2="675" y2="293.3" stroke="#0a8a0a" stroke-width="0.9" />
<line x1="672.8" y1="281.7" x2="677.2" y2="281.7" stroke="#0a8a0a" stroke-width="0.9" />
<line x1="672.8" y1="293.3" x2="677.2" y2="293.3" stroke="#0a8a0a" stroke-width="0.9" />
<path d="M675 290.5L678.15 285.1L671.85 285.1Z" fill="#0a8a0a"/>
<polyline points="543.75,253.8 562.5,256.5 581.25,256.3 600,265.2 618.75,260 637.5,267.8 656.25,274.3 675,277.8" fill="none" stroke="#ff8000" stroke-width="0.9" stroke-linejoin="round" />
<line x1="543.75" y1="248" x2="543.75" y2="259.6" stroke="#ff8000" stroke-width="0.9" />
<line x1="541.55" y1="248" x2="545.95" y2="248" stroke="#ff8000" stroke-width="0.9" />
<line x1="541.55" y1="259.6" x2="545.95" y2="259.6" stroke="#ff8000" stroke-width="0.9" />
<path d="M543.75 251L546.55 253.8L543.75 256.6L540.95 253.8Z" fill="#ff8000"/>
<line x1="562.5" y1="250.7" x2="562.5" y2="262.3" stroke="#ff8000" stroke-width="0.9" />
<line x1="560.3" y1="250.7" x2="564.7" y2="250.7" stroke="#ff8000" stroke-width="0.9" />
<line x1="560.3" y1="262.3" x2="564.7" y2="262.3" stroke="#ff8000" stroke-width="0.9" />
<path d="M562.5 253.7L565.3 256.5L562.5 259.3L559.7 256.5Z" fill="#ff8000"/>
<line x1="581.25" y1="250.5" x2="581.25" y2="262.1" stroke="#ff8000" stroke-width="0.9" />
<line x1="579.05" y1="250.5" x2="583.45" y2="250.5" stroke="#ff8000" stroke-width="0.9" />
<line x1="579.05" y1="262.1" x2="583.45" y2="262.1" stroke="#ff8000" stroke-width="0.9" />
<path d="M581.25 253.5L584.05 256.3L581.25 259.1L578.45 256.3Z" fill="#ff8000"/>
<line x1="600" y1="259.4" x2="600" y2="271" stroke="#ff8000" stroke-width="0.9" />
<line x1="597.8" y1="259.4" x2="602.2" y2="259.4" stroke="#ff8000" stroke-width="0.9" />
<line x1="597.8" y1="271" x2="602.2" y2="271" stroke="#ff8000" stroke-width="0.9" />
<path d="M600 262.4L602.8 265.2L600 268L597.2 265.2Z" fill="#ff8000"/>
<line x1="618.75" y1="254.2" x2="618.75" y2="265.8" stroke="#ff8000" stroke-width="0.9" />
<line x1="616.55" y1="254.2" x2="620.95" y2="254.2" stroke="#ff8000" stroke-width="0.9" />
<line x1="616.55" y1="265.8" x2="620.95" y2="265.8" stroke="#ff8000" stroke-width="0.9" />
<path d="M618.75 257.2L621.55 260L618.75 262.8L615.95 260Z" fill="#ff8000"/>
<line x1="637.5" y1="262" x2="637.5" y2="273.6" stroke="#ff8000" stroke-width="0.9" />
<line x1="635.3" y1="262" x2="639.7" y2="262" stroke="#ff8000" stroke-width="0.9" />
<line x1="635.3" y1="273.6" x2="639.7" y2="273.6" stroke="#ff8000" stroke-width="0.9" />
<path d="M637.5 265L640.3 267.8L637.5 270.6L634.7 267.8Z" fill="#ff8000"/>
<line x1="656.25" y1="268.5" x2="656.25" y2="280.1" stroke="#ff8000" stroke-width="0.9" />
<line x1="654.05" y1="268.5" x2="658.45" y2="268.5" stroke="#ff8000" stroke-width="0.9" />
<line x1="654.05" y1="280.1" x2="658.45" y2="280.1" stroke="#ff8000" stroke-width="0.9" />
<path d="M656.25 271.5L659.05 274.3L656.25 277.1L653.45 274.3Z" fill="#ff8000"/>
<line x1="675" y1="272" x2="675" y2="283.6" stroke="#ff8000" stroke-width="0.9" />
<line x1="672.8" y1="272" x2="677.2" y2="272" stroke="#ff8000" stroke-width="0.9" />
<line x1="672.8" y1="283.6" x2="677.2" y2="283.6" stroke="#ff8000" stroke-width="0.9" />
<path d="M675 275L677.8 277.8L675 280.6L672.2 277.8Z" fill="#ff8000"/>
<polyline points="543.75,257.7 562.5,260.4 581.25,255.2 600,255.7 618.75,260.4 637.5,258.3 656.25,268.8 675,276.3" fill="none" stroke="#ff0000" stroke-width="0.9" stroke-linejoin="round" />
<line x1="543.75" y1="251.9" x2="543.75" y2="263.5" stroke="#ff0000" stroke-width="0.9" />
<line x1="541.55" y1="251.9" x2="545.95" y2="251.9" stroke="#ff0000" stroke-width="0.9" />
<line x1="541.55" y1="263.5" x2="545.95" y2="263.5" stroke="#ff0000" stroke-width="0.9" />
<path d="M540.75 257.7L546.15 254.55L546.15 260.85Z" fill="#ff0000"/>
<line x1="562.5" y1="254.6" x2="562.5" y2="266.2" stroke="#ff0000" stroke-width="0.9" />
<line x1="560.3" y1="254.6" x2="564.7" y2="254.6" stroke="#ff0000" stroke-width="0.9" />
<line x1="560.3" y1="266.2" x2="564.7" y2="266.2" stroke="#ff0000" stroke-width="0.9" />
<path d="M559.5 260.4L564.9 257.25L564.9 263.55Z" fill="#ff0000"/>
<line x1="581.25" y1="249.4" x2="581.25" y2="261" stroke="#ff0000" stroke-width="0.9" />
<line x1="579.05" y1="249.4" x2="583.45" y2="249.4" stroke="#ff0000" stroke-width="0.9" />
<line x1="579.05" y1="261" x2="583.45" y2="261" stroke="#ff0000" stroke-width="0.9" />
<path d="M578.25 255.2L583.65 252.05L583.65 258.35Z" fill="#ff0000"/>
<line x1="600" y1="249.9" x2="600" y2="261.5" stroke="#ff0000" stroke-width="0.9" />
<line x1="597.8" y1="249.9" x2="602.2" y2="249.9" stroke="#ff0000" stroke-width="0.9" />
<line x1="597.8" y1="261.5" x2="602.2" y2="261.5" stroke="#ff0000" stroke-width="0.9" />
<path d="M597 255.7L602.4 252.55L602.4 258.85Z" fill="#ff0000"/>
<line x1="618.75" y1="254.6" x2="618.75" y2="266.2" stroke="#ff0000" stroke-width="0.9" />
<line x1="616.55" y1="254.6" x2="620.95" y2="254.6" stroke="#ff0000" stroke-width="0.9" />
<line x1="616.55" y1="266.2" x2="620.95" y2="266.2" stroke="#ff0000" stroke-width="0.9" />
<path d="M615.75 260.4L621.15 257.25L621.15 263.55Z" fill="#ff0000"/>
<line x1="637.5" y1="252.5" x2="637.5" y2="264.1" stroke="#ff0000" stroke-width="0.9" />
<line x1="635.3" y1="252.5" x2="639.7" y2="252.5" stroke="#ff0000" stroke-width="0.9" />
<line x1="635.3" y1="264.1" x2="639.7" y2="264.1" stroke="#ff0000" stroke-width="0.9" />
<path d="M634.5 258.3L639.9 255.15L639.9 261.45Z" fill="#ff0000"/>
<line x1="656.25" y1="263" x2="656.25" y2="274.6" stroke="#ff0000" stroke-width="0.9" />
<line x1="654.05" y1="263" x2="658.45" y2="263" stroke="#ff0000" stroke-width="0.9" />
<line x1="654.05" y1="274.6" x2="658.45" y2="274.6" stroke="#ff0000" stroke-width="0.9" />
<path d="M653.25 268.8L658.65 265.65L658.65 271.95Z" fill="#ff0000"/>
<line x1="675" y1="270.5" x2="675" y2="282.1" stroke="#ff0000" stroke-width="0.9" />
<line x1="672.8" y1="270.5" x2="677.2" y2="270.5" stroke="#ff0000" stroke-width="0.9" />
<line x1="672.8" y1="282.1" x2="677.2" y2="282.1" stroke="#ff0000" stroke-width="0.9" />
<path d="M672 276.3L677.4 273.15L677.4 279.45Z" fill="#ff0000"/>
<line x1="534.5" y1="209.3" x2="684.5" y2="209.3" stroke="#222" stroke-width="1" />
<line x1="534.5" y1="349.2" x2="684.5" y2="349.2" stroke="#222" stroke-width="1" />
<line x1="534.5" y1="209.3" x2="534.5" y2="349.2" stroke="#222" stroke-width="1" />
<line x1="684.5" y1="209.3" x2="684.5" y2="349.2" stroke="#222" stroke-width="1" />
<line x1="543.75" y1="349.2" x2="543.75" y2="346.2" stroke="#222" stroke-width="1.2" />
<text x="543.75" y="361" font-size="9.4" text-anchor="middle" font-weight="normal" font-style="normal" fill="#111" font-family="Liberation Sans">0</text>
<line x1="581.25" y1="349.2" x2="581.25" y2="346.2" stroke="#222" stroke-width="1.2" />
<text x="581.25" y="361" font-size="9.4" text-anchor="middle" font-weight="normal" font-style="normal" fill="#111" font-family="Liberation Sans">20</text>
<line x1="618.75" y1="349.2" x2="618.75" y2="346.2" stroke="#222" stroke-width="1.2" />
<text x="618.75" y="361" font-size="9.4" text-anchor="middle" font-weight="normal" font-style="normal" fill="#111" font-family="Liberation Sans">40</text>
<line x1="656.25" y1="349.2" x2="656.25" y2="346.2" stroke="#222" stroke-width="1.2" />
<text x="656.25" y="361" font-size="9.4" text-anchor="middle" font-weight="normal" font-style="normal" fill="#111" font-family="Liberation Sans">60</text>
<line x1="562.5" y1="349.2" x2="562.5" y2="347.7" stroke="#222" stroke-width="1" />
<line x1="600" y1="349.2" x2="600" y2="347.7" stroke="#222" stroke-width="1" />
<line x1="637.5" y1="349.2" x2="637.5" y2="347.7" stroke="#222" stroke-width="1" />
<line x1="675" y1="349.2" x2="675" y2="347.7" stroke="#222" stroke-width="1" />
<line x1="534.5" y1="333.4" x2="537.5" y2="333.4" stroke="#222" stroke-width="1.2" />
<text x="531.1" y="336.7" font-size="9.4" text-anchor="end" font-weight="normal" font-style="normal" fill="#111" font-family="Liberation Sans">4.195</text>
<line x1="534.5" y1="302.37" x2="537.5" y2="302.37" stroke="#222" stroke-width="1.2" />
<text x="531.1" y="305.67" font-size="9.4" text-anchor="end" font-weight="normal" font-style="normal" fill="#111" font-family="Liberation Sans">4.200</text>
<line x1="534.5" y1="271.35" x2="537.5" y2="271.35" stroke="#222" stroke-width="1.2" />
<text x="531.1" y="274.65" font-size="9.4" text-anchor="end" font-weight="normal" font-style="normal" fill="#111" font-family="Liberation Sans">4.205</text>
<line x1="534.5" y1="240.32" x2="537.5" y2="240.32" stroke="#222" stroke-width="1.2" />
<text x="531.1" y="243.62" font-size="9.4" text-anchor="end" font-weight="normal" font-style="normal" fill="#111" font-family="Liberation Sans">4.210</text>
<line x1="534.5" y1="209.3" x2="537.5" y2="209.3" stroke="#222" stroke-width="1.2" />
<text x="531.1" y="212.6" font-size="9.4" text-anchor="end" font-weight="normal" font-style="normal" fill="#111" font-family="Liberation Sans">4.215</text>
<line x1="534.5" y1="317.89" x2="536" y2="317.89" stroke="#222" stroke-width="1" />
<line x1="534.5" y1="286.86" x2="536" y2="286.86" stroke="#222" stroke-width="1" />
<line x1="534.5" y1="255.84" x2="536" y2="255.84" stroke="#222" stroke-width="1" />
<line x1="534.5" y1="224.81" x2="536" y2="224.81" stroke="#222" stroke-width="1" />
<text x="501.6" y="274.6" font-size="9.4" text-anchor="middle" font-weight="normal" font-style="normal" fill="#111" font-family="Liberation Sans" transform="rotate(-90 501.6 274.6)">Peak position (eV)</text>
<text x="609.8" y="376.8" text-anchor="middle" font-size="9.4" font-family="Liberation Sans" fill="#111"><tspan font-style="italic">H</tspan> (kOe)</text>
<text x="612.6" y="239.2" font-size="9.4" font-family="Liberation Sans" fill="#111" font-style="italic">H<tspan font-size="6.8" dy="2.2">c</tspan></text>
<text x="477.3" y="199.2" font-size="9.6" text-anchor="start" font-weight="bold" font-style="normal" fill="#111" font-family="Liberation Sans">f</text>
<line x1="542.3" y1="294.8" x2="552.5" y2="294.8" stroke="#8000ff" stroke-width="0.9" />
<circle cx="547.2" cy="294.8" r="2.3" fill="#8000ff"/>
<text x="558" y="298.1" font-size="9.3" text-anchor="start" font-weight="normal" font-style="normal" fill="#111" font-family="Liberation Sans">10 K</text>
<line x1="542.3" y1="306.1" x2="552.5" y2="306.1" stroke="#0000ff" stroke-width="0.9" />
<path d="M547.2 303.1L550.35 308.5L544.05 308.5Z" fill="#0000ff"/>
<text x="558" y="309.4" font-size="9.3" text-anchor="start" font-weight="normal" font-style="normal" fill="#111" font-family="Liberation Sans">20 K</text>
<line x1="542.3" y1="317.4" x2="552.5" y2="317.4" stroke="#0a8a0a" stroke-width="0.9" />
<path d="M547.2 320.4L550.35 315L544.05 315Z" fill="#0a8a0a"/>
<text x="558" y="320.7" font-size="9.3" text-anchor="start" font-weight="normal" font-style="normal" fill="#111" font-family="Liberation Sans">30 K</text>
<line x1="542.3" y1="328.6" x2="552.5" y2="328.6" stroke="#ff8000" stroke-width="0.9" />
<path d="M547.2 325.8L550 328.6L547.2 331.4L544.4 328.6Z" fill="#ff8000"/>
<text x="558" y="331.9" font-size="9.3" text-anchor="start" font-weight="normal" font-style="normal" fill="#111" font-family="Liberation Sans">40 K</text>
<line x1="542.3" y1="339.6" x2="552.5" y2="339.6" stroke="#ff0000" stroke-width="0.9" />
<path d="M544.2 339.6L549.6 336.45L549.6 342.75Z" fill="#ff0000"/>
<text x="558" y="342.9" font-size="9.3" text-anchor="start" font-weight="normal" font-style="normal" fill="#111" font-family="Liberation Sans">50 K</text>
</svg></body></html>
